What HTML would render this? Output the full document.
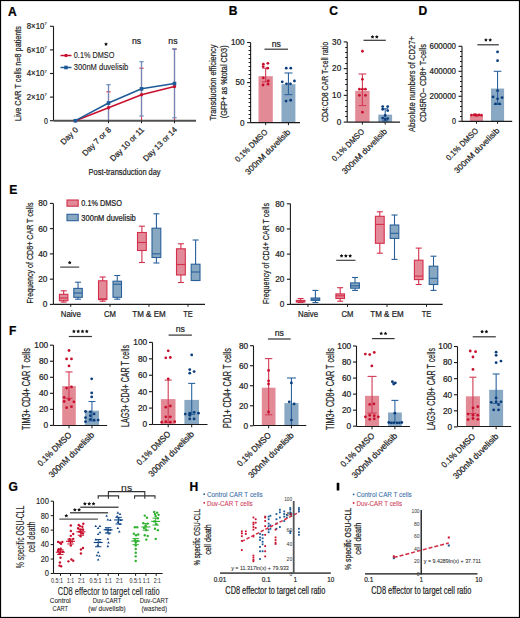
<!DOCTYPE html>
<html><head><meta charset="utf-8"><style>
html,body{margin:0;padding:0;background:#fff;}
svg{display:block;}
text{font-family:"Liberation Sans", sans-serif;}
</style></head><body>
<svg width="520" height="618" viewBox="0 0 520 618">
<rect x="0" y="0" width="520" height="618" fill="#fff"/>
<text transform="translate(8.1,15.8)" font-size="12.07" text-anchor="start" fill="#000" stroke="#000" stroke-width="0.22" font-weight="bold">A</text>
<line x1="53.5" y1="26.299999999999997" x2="53.5" y2="120.7" stroke="#1a1a1a" stroke-width="1.1" />
<line x1="50.0" y1="26.299999999999997" x2="53.5" y2="26.299999999999997" stroke="#1a1a1a" stroke-width="1.1" />
<text transform="translate(44.3,29.199999999999996)" font-size="8.16" text-anchor="end" fill="#222" stroke="#222" stroke-width="0.22" textLength="17.5" lengthAdjust="spacingAndGlyphs">8×10</text>
<text transform="translate(44.6,25.4)" font-size="4.14" text-anchor="start" fill="#555" stroke="#555" stroke-width="0.22">7</text>
<line x1="50.0" y1="49.89999999999999" x2="53.5" y2="49.89999999999999" stroke="#1a1a1a" stroke-width="1.1" />
<text transform="translate(44.3,52.79999999999999)" font-size="8.16" text-anchor="end" fill="#222" stroke="#222" stroke-width="0.22" textLength="17.5" lengthAdjust="spacingAndGlyphs">6×10</text>
<text transform="translate(44.6,48.99999999999999)" font-size="4.14" text-anchor="start" fill="#555" stroke="#555" stroke-width="0.22">7</text>
<line x1="50.0" y1="73.5" x2="53.5" y2="73.5" stroke="#1a1a1a" stroke-width="1.1" />
<text transform="translate(44.3,76.4)" font-size="8.16" text-anchor="end" fill="#222" stroke="#222" stroke-width="0.22" textLength="17.5" lengthAdjust="spacingAndGlyphs">4×10</text>
<text transform="translate(44.6,72.6)" font-size="4.14" text-anchor="start" fill="#555" stroke="#555" stroke-width="0.22">7</text>
<line x1="50.0" y1="97.1" x2="53.5" y2="97.1" stroke="#1a1a1a" stroke-width="1.1" />
<text transform="translate(44.3,100.0)" font-size="8.16" text-anchor="end" fill="#222" stroke="#222" stroke-width="0.22" textLength="17.5" lengthAdjust="spacingAndGlyphs">2×10</text>
<text transform="translate(44.6,96.19999999999999)" font-size="4.14" text-anchor="start" fill="#555" stroke="#555" stroke-width="0.22">7</text>
<line x1="50.0" y1="120.7" x2="53.5" y2="120.7" stroke="#1a1a1a" stroke-width="1.1" />
<text transform="translate(47.8,123.60000000000001)" font-size="8.16" text-anchor="end" fill="#222" stroke="#222" stroke-width="0.22" textLength="3.9" lengthAdjust="spacingAndGlyphs">0</text>
<text transform="translate(21.2,73.5) rotate(-90)" font-size="8.74" text-anchor="middle" fill="#222" stroke="#222" stroke-width="0.22" textLength="95" lengthAdjust="spacingAndGlyphs">Live CAR T cells n=8 patients</text>
<line x1="108.5" y1="91.78999999999999" x2="108.5" y2="120.7" stroke="#d23a55" stroke-width="1.1" />
<line x1="106.3" y1="91.78999999999999" x2="110.7" y2="91.78999999999999" stroke="#d23a55" stroke-width="1.1" />
<line x1="141.5" y1="68.19" x2="141.5" y2="120.7" stroke="#d23a55" stroke-width="1.1" />
<line x1="139.3" y1="68.19" x2="143.7" y2="68.19" stroke="#d23a55" stroke-width="1.1" />
<line x1="174.5" y1="49.31" x2="174.5" y2="120.7" stroke="#d23a55" stroke-width="1.1" />
<line x1="172.3" y1="49.31" x2="176.7" y2="49.31" stroke="#d23a55" stroke-width="1.1" />
<line x1="108.5" y1="84.71000000000001" x2="108.5" y2="120.7" stroke="#7585b5" stroke-width="1.3" />
<line x1="106.3" y1="84.71000000000001" x2="110.7" y2="84.71000000000001" stroke="#6b8fc0" stroke-width="1.2" />
<line x1="141.5" y1="61.7" x2="141.5" y2="115.98" stroke="#7585b5" stroke-width="1.3" />
<line x1="139.3" y1="61.7" x2="143.7" y2="61.7" stroke="#6b8fc0" stroke-width="1.2" />
<line x1="139.3" y1="115.98" x2="143.7" y2="115.98" stroke="#6b8fc0" stroke-width="1.2" />
<line x1="174.5" y1="48.72" x2="174.5" y2="117.75" stroke="#7585b5" stroke-width="1.3" />
<line x1="172.3" y1="48.72" x2="176.7" y2="48.72" stroke="#6b8fc0" stroke-width="1.2" />
<line x1="172.3" y1="117.75" x2="176.7" y2="117.75" stroke="#6b8fc0" stroke-width="1.2" />
<line x1="53.5" y1="120.7" x2="196" y2="120.7" stroke="#505050" stroke-width="2.1" />
<line x1="108.5" y1="120.7" x2="108.5" y2="123.2" stroke="#1a1a1a" stroke-width="1" />
<line x1="141.5" y1="120.7" x2="141.5" y2="123.2" stroke="#1a1a1a" stroke-width="1" />
<line x1="174.5" y1="120.7" x2="174.5" y2="123.2" stroke="#1a1a1a" stroke-width="1" />
<polyline points="75.4,120.7 108.5,107.72 141.5,94.74 174.5,86.48" fill="none" stroke="#c8102e" stroke-width="1.5"/>
<polyline points="75.4,120.7 108.5,103.0 141.5,88.84 174.5,83.53" fill="none" stroke="#1d5a98" stroke-width="1.5"/>
<circle cx="75.4" cy="120.7" r="1.7" fill="#c8102e"/>
<circle cx="108.5" cy="107.72" r="1.7" fill="#c8102e"/>
<circle cx="141.5" cy="94.74" r="1.7" fill="#c8102e"/>
<circle cx="174.5" cy="86.48" r="1.7" fill="#c8102e"/>
<rect x="73.60000000000001" y="118.9" width="3.6" height="3.6" fill="#1d5a98" stroke="none" stroke-width="0"/>
<rect x="106.7" y="101.2" width="3.6" height="3.6" fill="#1d5a98" stroke="none" stroke-width="0"/>
<rect x="139.7" y="87.04" width="3.6" height="3.6" fill="#1d5a98" stroke="none" stroke-width="0"/>
<rect x="172.7" y="81.73" width="3.6" height="3.6" fill="#1d5a98" stroke="none" stroke-width="0"/>
<polygon points="106.00,42.25 106.63,43.33 107.85,43.60 107.02,44.53 107.15,45.78 106.00,45.27 104.85,45.78 104.98,44.53 104.15,43.60 105.37,43.33" fill="#111"/>
<text transform="translate(136.6,43.9)" font-size="8.97" text-anchor="middle" fill="#222" stroke="#222" stroke-width="0.22" textLength="9.2" lengthAdjust="spacingAndGlyphs">ns</text>
<text transform="translate(172.9,43.9)" font-size="8.97" text-anchor="middle" fill="#222" stroke="#222" stroke-width="0.22" textLength="9.2" lengthAdjust="spacingAndGlyphs">ns</text>
<line x1="60.5" y1="55.5" x2="71.5" y2="55.5" stroke="#c8102e" stroke-width="1.5" />
<circle cx="66" cy="55.5" r="1.7" fill="#c8102e"/>
<text transform="translate(73.8,58.2)" font-size="8.28" text-anchor="start" fill="#222" stroke="#222" stroke-width="0.12" textLength="40.5" lengthAdjust="spacingAndGlyphs">0.1% DMSO</text>
<line x1="60.5" y1="67.5" x2="71.5" y2="67.5" stroke="#1d5a98" stroke-width="1.5" />
<rect x="64.2" y="65.7" width="3.6" height="3.6" fill="#1d5a98" stroke="none" stroke-width="0"/>
<text transform="translate(73.8,70.2)" font-size="8.28" text-anchor="start" fill="#222" stroke="#222" stroke-width="0.12" textLength="54.5" lengthAdjust="spacingAndGlyphs">300nM duvelisib</text>
<text transform="translate(78.6,130.3) rotate(-45)" font-size="8.05" text-anchor="end" fill="#222" stroke="#222" stroke-width="0.22" textLength="21" lengthAdjust="spacingAndGlyphs">Day 0</text>
<text transform="translate(111.6,130.3) rotate(-45)" font-size="8.05" text-anchor="end" fill="#222" stroke="#222" stroke-width="0.22" textLength="37" lengthAdjust="spacingAndGlyphs">Day 7 or 8</text>
<text transform="translate(144.6,130.3) rotate(-45)" font-size="8.05" text-anchor="end" fill="#222" stroke="#222" stroke-width="0.22" textLength="44.5" lengthAdjust="spacingAndGlyphs">Day 10 or 11</text>
<text transform="translate(177.6,130.3) rotate(-45)" font-size="8.05" text-anchor="end" fill="#222" stroke="#222" stroke-width="0.22" textLength="44.5" lengthAdjust="spacingAndGlyphs">Day 13 or 14</text>
<text transform="translate(124.6,174.5)" font-size="9.2" text-anchor="middle" fill="#222" stroke="#222" stroke-width="0.22" textLength="72" lengthAdjust="spacingAndGlyphs">Post-transduction day</text>
<text transform="translate(228.7,15.2)" font-size="12.07" text-anchor="start" fill="#000" stroke="#000" stroke-width="0.22" font-weight="bold">B</text>
<line x1="250.6" y1="42.5" x2="250.6" y2="122.7" stroke="#1a1a1a" stroke-width="1.1" />
<line x1="247.1" y1="122.7" x2="250.6" y2="122.7" stroke="#1a1a1a" stroke-width="1.1" />
<text transform="translate(244.6,125.54)" font-size="8.16" text-anchor="end" fill="#222" stroke="#222" stroke-width="0.22">0</text>
<line x1="247.1" y1="82.6" x2="250.6" y2="82.6" stroke="#1a1a1a" stroke-width="1.1" />
<text transform="translate(244.6,85.44)" font-size="8.16" text-anchor="end" fill="#222" stroke="#222" stroke-width="0.22">50</text>
<line x1="247.1" y1="42.5" x2="250.6" y2="42.5" stroke="#1a1a1a" stroke-width="1.1" />
<text transform="translate(244.6,45.34)" font-size="8.16" text-anchor="end" fill="#222" stroke="#222" stroke-width="0.22">100</text>
<line x1="248.6" y1="118.5" x2="250.6" y2="118.5" stroke="#1a1a1a" stroke-width="1" />
<line x1="248.6" y1="114.5" x2="250.6" y2="114.5" stroke="#1a1a1a" stroke-width="1" />
<line x1="248.6" y1="110.5" x2="250.6" y2="110.5" stroke="#1a1a1a" stroke-width="1" />
<line x1="248.6" y1="106.5" x2="250.6" y2="106.5" stroke="#1a1a1a" stroke-width="1" />
<line x1="248.6" y1="102.5" x2="250.6" y2="102.5" stroke="#1a1a1a" stroke-width="1" />
<line x1="248.6" y1="98.5" x2="250.6" y2="98.5" stroke="#1a1a1a" stroke-width="1" />
<line x1="248.6" y1="94.5" x2="250.6" y2="94.5" stroke="#1a1a1a" stroke-width="1" />
<line x1="248.6" y1="90.5" x2="250.6" y2="90.5" stroke="#1a1a1a" stroke-width="1" />
<line x1="248.6" y1="86.5" x2="250.6" y2="86.5" stroke="#1a1a1a" stroke-width="1" />
<line x1="248.6" y1="78.5" x2="250.6" y2="78.5" stroke="#1a1a1a" stroke-width="1" />
<line x1="248.6" y1="74.5" x2="250.6" y2="74.5" stroke="#1a1a1a" stroke-width="1" />
<line x1="248.6" y1="70.5" x2="250.6" y2="70.5" stroke="#1a1a1a" stroke-width="1" />
<line x1="248.6" y1="66.5" x2="250.6" y2="66.5" stroke="#1a1a1a" stroke-width="1" />
<line x1="248.6" y1="62.5" x2="250.6" y2="62.5" stroke="#1a1a1a" stroke-width="1" />
<line x1="248.6" y1="58.5" x2="250.6" y2="58.5" stroke="#1a1a1a" stroke-width="1" />
<line x1="248.6" y1="54.5" x2="250.6" y2="54.5" stroke="#1a1a1a" stroke-width="1" />
<line x1="248.6" y1="50.5" x2="250.6" y2="50.5" stroke="#1a1a1a" stroke-width="1" />
<line x1="248.6" y1="46.5" x2="250.6" y2="46.5" stroke="#1a1a1a" stroke-width="1" />
<rect x="258.5" y="76.184" width="14.300000000000011" height="46.516000000000005" fill="#e38a97" stroke="none" stroke-width="0"/>
<line x1="265.65" y1="68.164" x2="265.65" y2="81.798" stroke="#d23a55" stroke-width="1.1" />
<line x1="262.15" y1="68.164" x2="269.15" y2="68.164" stroke="#d23a55" stroke-width="1.1" />
<line x1="262.15" y1="81.798" x2="269.15" y2="81.798" stroke="#d23a55" stroke-width="1.1" />
<circle cx="263.34999999999997" cy="64.154" r="1.4" fill="#c8102e"/>
<circle cx="267.84999999999997" cy="63.352" r="1.4" fill="#c8102e"/>
<circle cx="263.15" cy="66.56" r="1.4" fill="#c8102e"/>
<circle cx="267.65" cy="68.164" r="1.4" fill="#c8102e"/>
<circle cx="263.25" cy="77.788" r="1.4" fill="#c8102e"/>
<circle cx="268.25" cy="80.99600000000001" r="1.4" fill="#c8102e"/>
<circle cx="263.04999999999995" cy="85.006" r="1.4" fill="#c8102e"/>
<circle cx="268.04999999999995" cy="84.20400000000001" r="1.4" fill="#c8102e"/>
<rect x="281.5" y="84.20400000000001" width="13.899999999999977" height="38.495999999999995" fill="#88a8c3" stroke="none" stroke-width="0"/>
<line x1="288.45" y1="72.976" x2="288.45" y2="94.63" stroke="#2c64a0" stroke-width="1.1" />
<line x1="284.45" y1="72.976" x2="292.45" y2="72.976" stroke="#2c64a0" stroke-width="1.1" />
<line x1="284.45" y1="94.63" x2="292.45" y2="94.63" stroke="#2c64a0" stroke-width="1.1" />
<circle cx="286.25" cy="68.164" r="1.4" fill="#0b3c7b"/>
<circle cx="290.75" cy="68.164" r="1.4" fill="#0b3c7b"/>
<circle cx="282.25" cy="81.798" r="1.4" fill="#0b3c7b"/>
<circle cx="286.45" cy="83.803" r="1.4" fill="#0b3c7b"/>
<circle cx="290.45" cy="83.803" r="1.4" fill="#0b3c7b"/>
<circle cx="294.45" cy="80.99600000000001" r="1.4" fill="#0b3c7b"/>
<circle cx="286.05" cy="101.046" r="1.4" fill="#0b3c7b"/>
<circle cx="290.65" cy="100.244" r="1.4" fill="#0b3c7b"/>
<line x1="250.6" y1="122.7" x2="300" y2="122.7" stroke="#1a1a1a" stroke-width="1.2" />
<line x1="265.65" y1="122.7" x2="265.65" y2="125.2" stroke="#1a1a1a" stroke-width="1" />
<line x1="288.45" y1="122.7" x2="288.45" y2="125.2" stroke="#1a1a1a" stroke-width="1" />
<text transform="translate(268.04999999999995,132.7) rotate(-45)" font-size="8.16" text-anchor="end" fill="#222" stroke="#222" stroke-width="0.22" textLength="42" lengthAdjust="spacingAndGlyphs">0.1% DMSO</text>
<text transform="translate(290.84999999999997,132.7) rotate(-45)" font-size="8.16" text-anchor="end" fill="#222" stroke="#222" stroke-width="0.22" textLength="60" lengthAdjust="spacingAndGlyphs">300nM duvelisib</text>
<line x1="264.5" y1="49.2" x2="288" y2="49.2" stroke="#333" stroke-width="1.2" />
<text transform="translate(276.25,46.800000000000004)" font-size="8.97" text-anchor="middle" fill="#222" stroke="#222" stroke-width="0.22" textLength="9.2" lengthAdjust="spacingAndGlyphs">ns</text>
<text transform="translate(216.2,82.6) rotate(-90)" font-size="8.39" text-anchor="middle" fill="#222" stroke="#222" stroke-width="0.22" textLength="76" lengthAdjust="spacingAndGlyphs">Transduction efficiency</text>
<text transform="translate(227.4,81.8) rotate(-90)" font-size="8.39" text-anchor="middle" fill="#222" stroke="#222" stroke-width="0.22" textLength="72.8" lengthAdjust="spacingAndGlyphs">(GFP+ as %total CD3)</text>
<text transform="translate(329.2,15.4)" font-size="12.07" text-anchor="start" fill="#000" stroke="#000" stroke-width="0.22" font-weight="bold">C</text>
<line x1="347.2" y1="41.9" x2="347.2" y2="122.1" stroke="#1a1a1a" stroke-width="1.1" />
<line x1="343.7" y1="122.1" x2="347.2" y2="122.1" stroke="#1a1a1a" stroke-width="1.1" />
<text transform="translate(341.2,124.94)" font-size="8.16" text-anchor="end" fill="#222" stroke="#222" stroke-width="0.22">0</text>
<line x1="343.7" y1="95.36666666666667" x2="347.2" y2="95.36666666666667" stroke="#1a1a1a" stroke-width="1.1" />
<text transform="translate(341.2,98.20666666666668)" font-size="8.16" text-anchor="end" fill="#222" stroke="#222" stroke-width="0.22">10</text>
<line x1="343.7" y1="68.63333333333334" x2="347.2" y2="68.63333333333334" stroke="#1a1a1a" stroke-width="1.1" />
<text transform="translate(341.2,71.47333333333334)" font-size="8.16" text-anchor="end" fill="#222" stroke="#222" stroke-width="0.22">20</text>
<line x1="343.7" y1="41.900000000000006" x2="347.2" y2="41.900000000000006" stroke="#1a1a1a" stroke-width="1.1" />
<text transform="translate(341.2,44.74000000000001)" font-size="8.16" text-anchor="end" fill="#222" stroke="#222" stroke-width="0.22">30</text>
<line x1="345.2" y1="116.5" x2="347.2" y2="116.5" stroke="#1a1a1a" stroke-width="1" />
<line x1="345.2" y1="111.5" x2="347.2" y2="111.5" stroke="#1a1a1a" stroke-width="1" />
<line x1="345.2" y1="106.5" x2="347.2" y2="106.5" stroke="#1a1a1a" stroke-width="1" />
<line x1="345.2" y1="100.5" x2="347.2" y2="100.5" stroke="#1a1a1a" stroke-width="1" />
<line x1="345.2" y1="90.5" x2="347.2" y2="90.5" stroke="#1a1a1a" stroke-width="1" />
<line x1="345.2" y1="84.5" x2="347.2" y2="84.5" stroke="#1a1a1a" stroke-width="1" />
<line x1="345.2" y1="79.5" x2="347.2" y2="79.5" stroke="#1a1a1a" stroke-width="1" />
<line x1="345.2" y1="73.5" x2="347.2" y2="73.5" stroke="#1a1a1a" stroke-width="1" />
<line x1="345.2" y1="63.5" x2="347.2" y2="63.5" stroke="#1a1a1a" stroke-width="1" />
<line x1="345.2" y1="57.5" x2="347.2" y2="57.5" stroke="#1a1a1a" stroke-width="1" />
<line x1="345.2" y1="52.5" x2="347.2" y2="52.5" stroke="#1a1a1a" stroke-width="1" />
<line x1="345.2" y1="47.5" x2="347.2" y2="47.5" stroke="#1a1a1a" stroke-width="1" />
<rect x="355.2" y="90.822" width="14.400000000000034" height="31.27799999999999" fill="#e38a97" stroke="none" stroke-width="0"/>
<line x1="362.4" y1="73.98" x2="362.4" y2="105.52533333333332" stroke="#d23a55" stroke-width="1.1" />
<line x1="358.59999999999997" y1="73.98" x2="366.2" y2="73.98" stroke="#d23a55" stroke-width="1.1" />
<line x1="358.59999999999997" y1="105.52533333333332" x2="366.2" y2="105.52533333333332" stroke="#d23a55" stroke-width="1.1" />
<circle cx="362.4" cy="51.256666666666675" r="1.4" fill="#c8102e"/>
<circle cx="362.4" cy="79.32666666666667" r="1.4" fill="#c8102e"/>
<circle cx="359.4" cy="89.21799999999999" r="1.4" fill="#c8102e"/>
<circle cx="365.4" cy="89.21799999999999" r="1.4" fill="#c8102e"/>
<circle cx="362.4" cy="89.21799999999999" r="1.4" fill="#c8102e"/>
<circle cx="359.4" cy="95.36666666666667" r="1.4" fill="#c8102e"/>
<circle cx="365.4" cy="95.36666666666667" r="1.4" fill="#c8102e"/>
<circle cx="362.4" cy="112.20866666666666" r="1.4" fill="#c8102e"/>
<rect x="378.3" y="114.61466666666666" width="13.800000000000011" height="7.48533333333333" fill="#88a8c3" stroke="none" stroke-width="0"/>
<line x1="385.20000000000005" y1="108.73333333333333" x2="385.20000000000005" y2="120.76333333333332" stroke="#2c64a0" stroke-width="1.1" />
<line x1="382.20000000000005" y1="108.73333333333333" x2="388.20000000000005" y2="108.73333333333333" stroke="#2c64a0" stroke-width="1.1" />
<line x1="382.20000000000005" y1="120.76333333333332" x2="388.20000000000005" y2="120.76333333333332" stroke="#2c64a0" stroke-width="1.1" />
<circle cx="382.70000000000005" cy="106.59466666666667" r="1.4" fill="#0b3c7b"/>
<circle cx="387.70000000000005" cy="106.59466666666667" r="1.4" fill="#0b3c7b"/>
<circle cx="382.70000000000005" cy="109.268" r="1.4" fill="#0b3c7b"/>
<circle cx="387.70000000000005" cy="110.60466666666666" r="1.4" fill="#0b3c7b"/>
<circle cx="382.70000000000005" cy="118.08999999999999" r="1.4" fill="#0b3c7b"/>
<circle cx="387.70000000000005" cy="118.62466666666666" r="1.4" fill="#0b3c7b"/>
<circle cx="385.20000000000005" cy="115.41666666666666" r="1.4" fill="#0b3c7b"/>
<circle cx="385.20000000000005" cy="119.42666666666666" r="1.4" fill="#0b3c7b"/>
<line x1="347.2" y1="122.1" x2="400" y2="122.1" stroke="#1a1a1a" stroke-width="1.2" />
<line x1="362.4" y1="122.1" x2="362.4" y2="124.6" stroke="#1a1a1a" stroke-width="1" />
<line x1="385.20000000000005" y1="122.1" x2="385.20000000000005" y2="124.6" stroke="#1a1a1a" stroke-width="1" />
<text transform="translate(364.79999999999995,132.1) rotate(-45)" font-size="8.16" text-anchor="end" fill="#222" stroke="#222" stroke-width="0.22" textLength="42" lengthAdjust="spacingAndGlyphs">0.1% DMSO</text>
<text transform="translate(387.6,132.1) rotate(-45)" font-size="8.16" text-anchor="end" fill="#222" stroke="#222" stroke-width="0.22" textLength="60" lengthAdjust="spacingAndGlyphs">300nM duvelisib</text>
<line x1="363.5" y1="40.3" x2="385.8" y2="40.3" stroke="#333" stroke-width="1.2" />
<polygon points="372.50,34.95 373.13,36.03 374.35,36.30 373.52,37.23 373.65,38.48 372.50,37.97 371.35,38.48 371.48,37.23 370.65,36.30 371.87,36.03" fill="#111"/>
<polygon points="376.80,34.95 377.43,36.03 378.65,36.30 377.82,37.23 377.95,38.48 376.80,37.97 375.65,38.48 375.78,37.23 374.95,36.30 376.17,36.03" fill="#111"/>
<text transform="translate(327.6,82) rotate(-90)" font-size="9.89" text-anchor="middle" fill="#222" stroke="#222" stroke-width="0.22" textLength="80" lengthAdjust="spacingAndGlyphs">CD4:CD8 CAR T-cell ratio</text>
<text transform="translate(418.5,15.4)" font-size="12.07" text-anchor="start" fill="#000" stroke="#000" stroke-width="0.22" font-weight="bold">D</text>
<line x1="462" y1="46.3" x2="462" y2="121.3" stroke="#1a1a1a" stroke-width="1.1" />
<line x1="458.5" y1="121.3" x2="462" y2="121.3" stroke="#1a1a1a" stroke-width="1.1" />
<text transform="translate(456,124.14)" font-size="8.16" text-anchor="end" fill="#222" stroke="#222" stroke-width="0.22" textLength="4" lengthAdjust="spacingAndGlyphs">0</text>
<line x1="458.5" y1="96.3" x2="462" y2="96.3" stroke="#1a1a1a" stroke-width="1.1" />
<text transform="translate(456,99.14)" font-size="8.16" text-anchor="end" fill="#222" stroke="#222" stroke-width="0.22" textLength="26.5" lengthAdjust="spacingAndGlyphs">200000</text>
<line x1="458.5" y1="71.3" x2="462" y2="71.3" stroke="#1a1a1a" stroke-width="1.1" />
<text transform="translate(456,74.14)" font-size="8.16" text-anchor="end" fill="#222" stroke="#222" stroke-width="0.22" textLength="26.5" lengthAdjust="spacingAndGlyphs">400000</text>
<line x1="458.5" y1="46.3" x2="462" y2="46.3" stroke="#1a1a1a" stroke-width="1.1" />
<text transform="translate(456,49.14)" font-size="8.16" text-anchor="end" fill="#222" stroke="#222" stroke-width="0.22" textLength="26.5" lengthAdjust="spacingAndGlyphs">600000</text>
<line x1="460" y1="116.5" x2="462" y2="116.5" stroke="#1a1a1a" stroke-width="1" />
<line x1="460" y1="111.5" x2="462" y2="111.5" stroke="#1a1a1a" stroke-width="1" />
<line x1="460" y1="106.5" x2="462" y2="106.5" stroke="#1a1a1a" stroke-width="1" />
<line x1="460" y1="101.5" x2="462" y2="101.5" stroke="#1a1a1a" stroke-width="1" />
<line x1="460" y1="91.5" x2="462" y2="91.5" stroke="#1a1a1a" stroke-width="1" />
<line x1="460" y1="86.5" x2="462" y2="86.5" stroke="#1a1a1a" stroke-width="1" />
<line x1="460" y1="81.5" x2="462" y2="81.5" stroke="#1a1a1a" stroke-width="1" />
<line x1="460" y1="76.5" x2="462" y2="76.5" stroke="#1a1a1a" stroke-width="1" />
<line x1="460" y1="66.5" x2="462" y2="66.5" stroke="#1a1a1a" stroke-width="1" />
<line x1="460" y1="61.5" x2="462" y2="61.5" stroke="#1a1a1a" stroke-width="1" />
<line x1="460" y1="56.5" x2="462" y2="56.5" stroke="#1a1a1a" stroke-width="1" />
<line x1="460" y1="51.5" x2="462" y2="51.5" stroke="#1a1a1a" stroke-width="1" />
<rect x="469.9" y="115.425" width="13.100000000000023" height="5.875" fill="#e38a97" stroke="none" stroke-width="0"/>
<line x1="476.45" y1="114.8" x2="476.45" y2="115.925" stroke="#d23a55" stroke-width="1.1" />
<line x1="474.45" y1="114.8" x2="478.45" y2="114.8" stroke="#d23a55" stroke-width="1.1" />
<line x1="474.45" y1="115.925" x2="478.45" y2="115.925" stroke="#d23a55" stroke-width="1.1" />
<circle cx="471.45" cy="115.05" r="1.4" fill="#c8102e"/>
<circle cx="473.95" cy="114.8" r="1.4" fill="#c8102e"/>
<circle cx="476.45" cy="115.3" r="1.4" fill="#c8102e"/>
<circle cx="478.95" cy="114.925" r="1.4" fill="#c8102e"/>
<circle cx="481.45" cy="115.175" r="1.4" fill="#c8102e"/>
<circle cx="475.45" cy="114.675" r="1.4" fill="#c8102e"/>
<rect x="491" y="88.55" width="13.100000000000023" height="32.75" fill="#88a8c3" stroke="none" stroke-width="0"/>
<line x1="497.55" y1="71.3" x2="497.55" y2="104.425" stroke="#2c64a0" stroke-width="1.1" />
<line x1="493.75" y1="71.3" x2="501.35" y2="71.3" stroke="#2c64a0" stroke-width="1.1" />
<line x1="493.75" y1="104.425" x2="501.35" y2="104.425" stroke="#2c64a0" stroke-width="1.1" />
<circle cx="497.55" cy="51.925" r="1.4" fill="#0b3c7b"/>
<circle cx="497.55" cy="60.675" r="1.4" fill="#0b3c7b"/>
<circle cx="497.55" cy="90.675" r="1.4" fill="#0b3c7b"/>
<circle cx="493.05" cy="96.925" r="1.4" fill="#0b3c7b"/>
<circle cx="502.05" cy="97.55" r="1.4" fill="#0b3c7b"/>
<circle cx="497.55" cy="98.8" r="1.4" fill="#0b3c7b"/>
<circle cx="495.55" cy="103.8" r="1.4" fill="#0b3c7b"/>
<circle cx="499.55" cy="103.8" r="1.4" fill="#0b3c7b"/>
<line x1="462" y1="121.3" x2="512.2" y2="121.3" stroke="#1a1a1a" stroke-width="1.2" />
<line x1="476.45" y1="121.3" x2="476.45" y2="123.8" stroke="#1a1a1a" stroke-width="1" />
<line x1="497.55" y1="121.3" x2="497.55" y2="123.8" stroke="#1a1a1a" stroke-width="1" />
<text transform="translate(478.84999999999997,131.3) rotate(-45)" font-size="8.16" text-anchor="end" fill="#222" stroke="#222" stroke-width="0.22" textLength="42" lengthAdjust="spacingAndGlyphs">0.1% DMSO</text>
<text transform="translate(499.95,131.3) rotate(-45)" font-size="8.16" text-anchor="end" fill="#222" stroke="#222" stroke-width="0.22" textLength="60" lengthAdjust="spacingAndGlyphs">300nM duvelisib</text>
<line x1="477.3" y1="44.8" x2="498.8" y2="44.8" stroke="#333" stroke-width="1.2" />
<polygon points="485.90,38.05 486.53,39.13 487.75,39.40 486.92,40.33 487.05,41.58 485.90,41.07 484.75,41.58 484.88,40.33 484.05,39.40 485.27,39.13" fill="#111"/>
<polygon points="490.20,38.05 490.83,39.13 492.05,39.40 491.22,40.33 491.35,41.58 490.20,41.07 489.05,41.58 489.18,40.33 488.35,39.40 489.57,39.13" fill="#111"/>
<text transform="translate(415,84) rotate(-90)" font-size="9.89" text-anchor="middle" fill="#222" stroke="#222" stroke-width="0.22" textLength="96" lengthAdjust="spacingAndGlyphs">Absolute numbers of CD27+</text>
<text transform="translate(425.6,83) rotate(-90)" font-size="9.89" text-anchor="middle" fill="#222" stroke="#222" stroke-width="0.22" textLength="78" lengthAdjust="spacingAndGlyphs">CD45RO– CD8+ T-cells</text>
<text transform="translate(9.3,193.8)" font-size="12.07" text-anchor="start" fill="#000" stroke="#000" stroke-width="0.22" font-weight="bold">E</text>
<line x1="53.4" y1="203.39999999999998" x2="53.4" y2="304.3" stroke="#1a1a1a" stroke-width="1.1" />
<line x1="49.9" y1="304.4" x2="53.4" y2="304.4" stroke="#1a1a1a" stroke-width="1.1" />
<text transform="translate(47.4,307.28)" font-size="8.28" text-anchor="end" fill="#222" stroke="#222" stroke-width="0.22">0</text>
<line x1="49.9" y1="279.15" x2="53.4" y2="279.15" stroke="#1a1a1a" stroke-width="1.1" />
<text transform="translate(47.4,282.03)" font-size="8.28" text-anchor="end" fill="#222" stroke="#222" stroke-width="0.22">20</text>
<line x1="49.9" y1="253.89999999999998" x2="53.4" y2="253.89999999999998" stroke="#1a1a1a" stroke-width="1.1" />
<text transform="translate(47.4,256.78)" font-size="8.28" text-anchor="end" fill="#222" stroke="#222" stroke-width="0.22">40</text>
<line x1="49.9" y1="228.64999999999998" x2="53.4" y2="228.64999999999998" stroke="#1a1a1a" stroke-width="1.1" />
<text transform="translate(47.4,231.52999999999997)" font-size="8.28" text-anchor="end" fill="#222" stroke="#222" stroke-width="0.22">60</text>
<line x1="49.9" y1="203.39999999999998" x2="53.4" y2="203.39999999999998" stroke="#1a1a1a" stroke-width="1.1" />
<text transform="translate(47.4,206.27999999999997)" font-size="8.28" text-anchor="end" fill="#222" stroke="#222" stroke-width="0.22">80</text>
<line x1="53.4" y1="304.3" x2="205" y2="304.3" stroke="#1a1a1a" stroke-width="1.2" />
<line x1="70.75" y1="304.3" x2="70.75" y2="306.8" stroke="#1a1a1a" stroke-width="1" />
<text transform="translate(70.75,317.0)" font-size="8.51" text-anchor="middle" fill="#222" stroke="#222" stroke-width="0.22" textLength="20" lengthAdjust="spacingAndGlyphs">Naive</text>
<line x1="110" y1="304.3" x2="110" y2="306.8" stroke="#1a1a1a" stroke-width="1" />
<text transform="translate(110,317.0)" font-size="8.51" text-anchor="middle" fill="#222" stroke="#222" stroke-width="0.22" textLength="12" lengthAdjust="spacingAndGlyphs">CM</text>
<line x1="149" y1="304.3" x2="149" y2="306.8" stroke="#1a1a1a" stroke-width="1" />
<text transform="translate(149,317.0)" font-size="8.51" text-anchor="middle" fill="#222" stroke="#222" stroke-width="0.22" textLength="33.5" lengthAdjust="spacingAndGlyphs">TM &amp; EM</text>
<line x1="188" y1="304.3" x2="188" y2="306.8" stroke="#1a1a1a" stroke-width="1" />
<text transform="translate(188,317.0)" font-size="8.51" text-anchor="middle" fill="#222" stroke="#222" stroke-width="0.22" textLength="9.5" lengthAdjust="spacingAndGlyphs">TE</text>
<line x1="63.65" y1="290.8" x2="63.65" y2="302.1" stroke="#d22f4c" stroke-width="1.1" />
<line x1="60.65" y1="290.8" x2="66.65" y2="290.8" stroke="#d22f4c" stroke-width="1.1" />
<line x1="60.65" y1="302.1" x2="66.65" y2="302.1" stroke="#d22f4c" stroke-width="1.1" />
<rect x="59.4" y="294.3" width="8.5" height="6.399999999999977" fill="#e38a98" stroke="#d22f4c" stroke-width="1.1"/>
<line x1="59.4" y1="298" x2="67.9" y2="298" stroke="#d22f4c" stroke-width="1.1" />
<line x1="78.05" y1="282.2" x2="78.05" y2="299.2" stroke="#28609a" stroke-width="1.1" />
<line x1="75.05" y1="282.2" x2="81.05" y2="282.2" stroke="#28609a" stroke-width="1.1" />
<line x1="75.05" y1="299.2" x2="81.05" y2="299.2" stroke="#28609a" stroke-width="1.1" />
<rect x="73.8" y="288.4" width="8.5" height="8.900000000000034" fill="#88a8c2" stroke="#28609a" stroke-width="1.1"/>
<line x1="73.8" y1="293" x2="82.3" y2="293" stroke="#28609a" stroke-width="1.1" />
<line x1="102.7" y1="277" x2="102.7" y2="301.2" stroke="#d22f4c" stroke-width="1.1" />
<line x1="99.7" y1="277" x2="105.7" y2="277" stroke="#d22f4c" stroke-width="1.1" />
<line x1="99.7" y1="301.2" x2="105.7" y2="301.2" stroke="#d22f4c" stroke-width="1.1" />
<rect x="98.5" y="280.8" width="8.4" height="18.80000000000001" fill="#e38a98" stroke="#d22f4c" stroke-width="1.1"/>
<line x1="98.5" y1="298.8" x2="106.9" y2="298.8" stroke="#d22f4c" stroke-width="1.1" />
<line x1="117.25" y1="275.5" x2="117.25" y2="299.2" stroke="#28609a" stroke-width="1.1" />
<line x1="114.25" y1="275.5" x2="120.25" y2="275.5" stroke="#28609a" stroke-width="1.1" />
<line x1="114.25" y1="299.2" x2="120.25" y2="299.2" stroke="#28609a" stroke-width="1.1" />
<rect x="113.0" y="281.2" width="8.5" height="16.100000000000023" fill="#88a8c2" stroke="#28609a" stroke-width="1.1"/>
<line x1="113.0" y1="284.2" x2="121.5" y2="284.2" stroke="#28609a" stroke-width="1.1" />
<line x1="141.9" y1="226.2" x2="141.9" y2="262.5" stroke="#d22f4c" stroke-width="1.1" />
<line x1="138.9" y1="226.2" x2="144.9" y2="226.2" stroke="#d22f4c" stroke-width="1.1" />
<line x1="138.9" y1="262.5" x2="144.9" y2="262.5" stroke="#d22f4c" stroke-width="1.1" />
<rect x="137.5" y="232.5" width="8.8" height="18.0" fill="#e38a98" stroke="#d22f4c" stroke-width="1.1"/>
<line x1="137.5" y1="242.5" x2="146.3" y2="242.5" stroke="#d22f4c" stroke-width="1.1" />
<line x1="156.4" y1="213.8" x2="156.4" y2="263" stroke="#28609a" stroke-width="1.1" />
<line x1="153.4" y1="213.8" x2="159.4" y2="213.8" stroke="#28609a" stroke-width="1.1" />
<line x1="153.4" y1="263" x2="159.4" y2="263" stroke="#28609a" stroke-width="1.1" />
<rect x="152.0" y="228.2" width="8.8" height="29.30000000000001" fill="#88a8c2" stroke="#28609a" stroke-width="1.1"/>
<line x1="152.0" y1="253.8" x2="160.8" y2="253.8" stroke="#28609a" stroke-width="1.1" />
<line x1="180.9" y1="243.8" x2="180.9" y2="282.5" stroke="#d22f4c" stroke-width="1.1" />
<line x1="177.9" y1="243.8" x2="183.9" y2="243.8" stroke="#d22f4c" stroke-width="1.1" />
<line x1="177.9" y1="282.5" x2="183.9" y2="282.5" stroke="#d22f4c" stroke-width="1.1" />
<rect x="176.5" y="248.8" width="8.8" height="26.19999999999999" fill="#e38a98" stroke="#d22f4c" stroke-width="1.1"/>
<line x1="176.5" y1="264.5" x2="185.3" y2="264.5" stroke="#d22f4c" stroke-width="1.1" />
<line x1="195.6" y1="240" x2="195.6" y2="280.5" stroke="#28609a" stroke-width="1.1" />
<line x1="192.6" y1="240" x2="198.6" y2="240" stroke="#28609a" stroke-width="1.1" />
<line x1="192.6" y1="280.5" x2="198.6" y2="280.5" stroke="#28609a" stroke-width="1.1" />
<rect x="191.2" y="264.2" width="8.8" height="16.30000000000001" fill="#88a8c2" stroke="#28609a" stroke-width="1.1"/>
<line x1="191.2" y1="272" x2="200.0" y2="272" stroke="#28609a" stroke-width="1.1" />
<text transform="translate(32.5,253) rotate(-90)" font-size="9.77" text-anchor="middle" fill="#222" stroke="#222" stroke-width="0.22" textLength="101" lengthAdjust="spacingAndGlyphs">Frequency of CD8+ CAR T cells</text>
<line x1="60.2" y1="267.1" x2="79.2" y2="267.1" stroke="#333" stroke-width="1.1" />
<polygon points="69.70,260.75 70.33,261.83 71.55,262.10 70.72,263.03 70.85,264.28 69.70,263.77 68.55,264.28 68.68,263.03 67.85,262.10 69.07,261.83" fill="#111"/>
<rect x="67" y="200" width="11.2" height="6.2" fill="#e38a98" stroke="#d22f4c" stroke-width="1.1"/>
<text transform="translate(81.3,206.2)" font-size="8.28" text-anchor="start" fill="#222" stroke="#222" stroke-width="0.22" textLength="40.5" lengthAdjust="spacingAndGlyphs">0.1% DMSO</text>
<rect x="67" y="214.3" width="11.2" height="6.4" fill="#88a8c2" stroke="#28609a" stroke-width="1.1"/>
<text transform="translate(81.3,220.6)" font-size="8.28" text-anchor="start" fill="#222" stroke="#222" stroke-width="0.22" textLength="54.5" lengthAdjust="spacingAndGlyphs">300nM duvelisib</text>
<line x1="290.4" y1="203.79999999999998" x2="290.4" y2="304.4" stroke="#1a1a1a" stroke-width="1.1" />
<line x1="286.9" y1="304.4" x2="290.4" y2="304.4" stroke="#1a1a1a" stroke-width="1.1" />
<text transform="translate(284.4,307.28)" font-size="8.28" text-anchor="end" fill="#222" stroke="#222" stroke-width="0.22">0</text>
<line x1="286.9" y1="279.25" x2="290.4" y2="279.25" stroke="#1a1a1a" stroke-width="1.1" />
<text transform="translate(284.4,282.13)" font-size="8.28" text-anchor="end" fill="#222" stroke="#222" stroke-width="0.22">20</text>
<line x1="286.9" y1="254.09999999999997" x2="290.4" y2="254.09999999999997" stroke="#1a1a1a" stroke-width="1.1" />
<text transform="translate(284.4,256.97999999999996)" font-size="8.28" text-anchor="end" fill="#222" stroke="#222" stroke-width="0.22">40</text>
<line x1="286.9" y1="228.95" x2="290.4" y2="228.95" stroke="#1a1a1a" stroke-width="1.1" />
<text transform="translate(284.4,231.82999999999998)" font-size="8.28" text-anchor="end" fill="#222" stroke="#222" stroke-width="0.22">60</text>
<line x1="286.9" y1="203.79999999999998" x2="290.4" y2="203.79999999999998" stroke="#1a1a1a" stroke-width="1.1" />
<text transform="translate(284.4,206.67999999999998)" font-size="8.28" text-anchor="end" fill="#222" stroke="#222" stroke-width="0.22">80</text>
<line x1="290.4" y1="304.4" x2="442.7" y2="304.4" stroke="#1a1a1a" stroke-width="1.2" />
<line x1="308" y1="304.4" x2="308" y2="306.9" stroke="#1a1a1a" stroke-width="1" />
<text transform="translate(308,317.0)" font-size="8.51" text-anchor="middle" fill="#222" stroke="#222" stroke-width="0.22" textLength="20" lengthAdjust="spacingAndGlyphs">Naive</text>
<line x1="347.5" y1="304.4" x2="347.5" y2="306.9" stroke="#1a1a1a" stroke-width="1" />
<text transform="translate(347.5,317.0)" font-size="8.51" text-anchor="middle" fill="#222" stroke="#222" stroke-width="0.22" textLength="12" lengthAdjust="spacingAndGlyphs">CM</text>
<line x1="387" y1="304.4" x2="387" y2="306.9" stroke="#1a1a1a" stroke-width="1" />
<text transform="translate(387,317.0)" font-size="8.51" text-anchor="middle" fill="#222" stroke="#222" stroke-width="0.22" textLength="33.5" lengthAdjust="spacingAndGlyphs">TM &amp; EM</text>
<line x1="426.5" y1="304.4" x2="426.5" y2="306.9" stroke="#1a1a1a" stroke-width="1" />
<text transform="translate(426.5,317.0)" font-size="8.51" text-anchor="middle" fill="#222" stroke="#222" stroke-width="0.22" textLength="9.5" lengthAdjust="spacingAndGlyphs">TE</text>
<line x1="300.6" y1="298.5" x2="300.6" y2="302.5" stroke="#d22f4c" stroke-width="1.1" />
<line x1="297.6" y1="298.5" x2="303.6" y2="298.5" stroke="#d22f4c" stroke-width="1.1" />
<line x1="297.6" y1="302.5" x2="303.6" y2="302.5" stroke="#d22f4c" stroke-width="1.1" />
<rect x="296.3" y="300.4" width="8.6" height="1.6000000000000227" fill="#e38a98" stroke="#d22f4c" stroke-width="1.1"/>
<line x1="296.3" y1="301.2" x2="304.90000000000003" y2="301.2" stroke="#d22f4c" stroke-width="1.1" />
<line x1="315.4" y1="290.4" x2="315.4" y2="302.5" stroke="#28609a" stroke-width="1.1" />
<line x1="312.4" y1="290.4" x2="318.4" y2="290.4" stroke="#28609a" stroke-width="1.1" />
<line x1="312.4" y1="302.5" x2="318.4" y2="302.5" stroke="#28609a" stroke-width="1.1" />
<rect x="311.09999999999997" y="298" width="8.6" height="2.3999999999999773" fill="#88a8c2" stroke="#28609a" stroke-width="1.1"/>
<line x1="311.09999999999997" y1="299.2" x2="319.7" y2="299.2" stroke="#28609a" stroke-width="1.1" />
<line x1="340.2" y1="287.7" x2="340.2" y2="301.2" stroke="#d22f4c" stroke-width="1.1" />
<line x1="337.2" y1="287.7" x2="343.2" y2="287.7" stroke="#d22f4c" stroke-width="1.1" />
<line x1="337.2" y1="301.2" x2="343.2" y2="301.2" stroke="#d22f4c" stroke-width="1.1" />
<rect x="335.9" y="293.9" width="8.6" height="4.600000000000023" fill="#e38a98" stroke="#d22f4c" stroke-width="1.1"/>
<line x1="335.9" y1="295.8" x2="344.5" y2="295.8" stroke="#d22f4c" stroke-width="1.1" />
<line x1="355" y1="277.5" x2="355" y2="290.4" stroke="#28609a" stroke-width="1.1" />
<line x1="352" y1="277.5" x2="358" y2="277.5" stroke="#28609a" stroke-width="1.1" />
<line x1="352" y1="290.4" x2="358" y2="290.4" stroke="#28609a" stroke-width="1.1" />
<rect x="350.6" y="282.9" width="8.8" height="5.300000000000011" fill="#88a8c2" stroke="#28609a" stroke-width="1.1"/>
<line x1="350.6" y1="285.8" x2="359.4" y2="285.8" stroke="#28609a" stroke-width="1.1" />
<line x1="379.8" y1="211.8" x2="379.8" y2="253.2" stroke="#d22f4c" stroke-width="1.1" />
<line x1="376.8" y1="211.8" x2="382.8" y2="211.8" stroke="#d22f4c" stroke-width="1.1" />
<line x1="376.8" y1="253.2" x2="382.8" y2="253.2" stroke="#d22f4c" stroke-width="1.1" />
<rect x="375.40000000000003" y="216.3" width="8.8" height="27.0" fill="#e38a98" stroke="#d22f4c" stroke-width="1.1"/>
<line x1="375.40000000000003" y1="224.4" x2="384.2" y2="224.4" stroke="#d22f4c" stroke-width="1.1" />
<line x1="394.5" y1="215" x2="394.5" y2="259.4" stroke="#28609a" stroke-width="1.1" />
<line x1="391.5" y1="215" x2="397.5" y2="215" stroke="#28609a" stroke-width="1.1" />
<line x1="391.5" y1="259.4" x2="397.5" y2="259.4" stroke="#28609a" stroke-width="1.1" />
<rect x="390.2" y="225" width="8.6" height="13.400000000000006" fill="#88a8c2" stroke="#28609a" stroke-width="1.1"/>
<line x1="390.2" y1="233.3" x2="398.8" y2="233.3" stroke="#28609a" stroke-width="1.1" />
<line x1="418.7" y1="248.1" x2="418.7" y2="284.5" stroke="#d22f4c" stroke-width="1.1" />
<line x1="415.7" y1="248.1" x2="421.7" y2="248.1" stroke="#d22f4c" stroke-width="1.1" />
<line x1="415.7" y1="284.5" x2="421.7" y2="284.5" stroke="#d22f4c" stroke-width="1.1" />
<rect x="414.4" y="260.2" width="8.6" height="19.400000000000034" fill="#e38a98" stroke="#d22f4c" stroke-width="1.1"/>
<line x1="414.4" y1="276.1" x2="423.0" y2="276.1" stroke="#d22f4c" stroke-width="1.1" />
<line x1="433.5" y1="256.2" x2="433.5" y2="290.4" stroke="#28609a" stroke-width="1.1" />
<line x1="430.5" y1="256.2" x2="436.5" y2="256.2" stroke="#28609a" stroke-width="1.1" />
<line x1="430.5" y1="290.4" x2="436.5" y2="290.4" stroke="#28609a" stroke-width="1.1" />
<rect x="429.2" y="266.2" width="8.6" height="18.30000000000001" fill="#88a8c2" stroke="#28609a" stroke-width="1.1"/>
<line x1="429.2" y1="278.3" x2="437.8" y2="278.3" stroke="#28609a" stroke-width="1.1" />
<text transform="translate(268.5,253.5) rotate(-90)" font-size="9.77" text-anchor="middle" fill="#222" stroke="#222" stroke-width="0.22" textLength="101" lengthAdjust="spacingAndGlyphs">Frequency of CD4+ CAR T cells</text>
<line x1="336.2" y1="260.3" x2="355.5" y2="260.3" stroke="#333" stroke-width="1.1" />
<polygon points="341.55,253.95 342.18,255.03 343.40,255.30 342.57,256.23 342.70,257.48 341.55,256.97 340.40,257.48 340.53,256.23 339.70,255.30 340.92,255.03" fill="#111"/>
<polygon points="345.85,253.95 346.48,255.03 347.70,255.30 346.87,256.23 347.00,257.48 345.85,256.97 344.70,257.48 344.83,256.23 344.00,255.30 345.22,255.03" fill="#111"/>
<polygon points="350.15,253.95 350.78,255.03 352.00,255.30 351.17,256.23 351.30,257.48 350.15,256.97 349.00,257.48 349.13,256.23 348.30,255.30 349.52,255.03" fill="#111"/>
<text transform="translate(9,334.6)" font-size="12.07" text-anchor="start" fill="#000" stroke="#000" stroke-width="0.22" font-weight="bold">F</text>
<line x1="53.5" y1="345.2" x2="53.5" y2="425.5" stroke="#1a1a1a" stroke-width="1.1" />
<line x1="50.0" y1="425.4" x2="53.5" y2="425.4" stroke="#1a1a1a" stroke-width="1.1" />
<text transform="translate(48.2,428.2869565217391)" font-size="8.3" text-anchor="end" fill="#222" stroke="#222" stroke-width="0.22">0</text>
<line x1="50.0" y1="409.35999999999996" x2="53.5" y2="409.35999999999996" stroke="#1a1a1a" stroke-width="1.1" />
<text transform="translate(48.2,412.2469565217391)" font-size="8.3" text-anchor="end" fill="#222" stroke="#222" stroke-width="0.22">20</text>
<line x1="50.0" y1="393.32" x2="53.5" y2="393.32" stroke="#1a1a1a" stroke-width="1.1" />
<text transform="translate(48.2,396.20695652173913)" font-size="8.3" text-anchor="end" fill="#222" stroke="#222" stroke-width="0.22">40</text>
<line x1="50.0" y1="377.28" x2="53.5" y2="377.28" stroke="#1a1a1a" stroke-width="1.1" />
<text transform="translate(48.2,380.1669565217391)" font-size="8.3" text-anchor="end" fill="#222" stroke="#222" stroke-width="0.22">60</text>
<line x1="50.0" y1="361.24" x2="53.5" y2="361.24" stroke="#1a1a1a" stroke-width="1.1" />
<text transform="translate(48.2,364.12695652173915)" font-size="8.3" text-anchor="end" fill="#222" stroke="#222" stroke-width="0.22">80</text>
<line x1="50.0" y1="345.2" x2="53.5" y2="345.2" stroke="#1a1a1a" stroke-width="1.1" />
<text transform="translate(48.2,348.0869565217391)" font-size="8.3" text-anchor="end" fill="#222" stroke="#222" stroke-width="0.22">100</text>
<rect x="62.2" y="386.1" width="13.599999999999994" height="39.39999999999998" fill="#e38a97" stroke="none" stroke-width="0"/>
<line x1="69.0" y1="371.9" x2="69.0" y2="398.3" stroke="#d23a55" stroke-width="1.1" />
<line x1="65.5" y1="371.9" x2="72.5" y2="371.9" stroke="#d23a55" stroke-width="1.1" />
<line x1="65.5" y1="398.3" x2="72.5" y2="398.3" stroke="#d23a55" stroke-width="1.1" />
<circle cx="69.03559870550163" cy="350.5177993527508" r="1.4" fill="#c8102e"/>
<circle cx="66.6084142394822" cy="358.93203883495147" r="1.4" fill="#c8102e"/>
<circle cx="71.46278317152104" cy="358.93203883495147" r="1.4" fill="#c8102e"/>
<circle cx="69.03559870550163" cy="365.88996763754045" r="1.4" fill="#c8102e"/>
<circle cx="66.6084142394822" cy="388.05825242718447" r="1.4" fill="#c8102e"/>
<circle cx="71.46278317152104" cy="386.9255663430421" r="1.4" fill="#c8102e"/>
<circle cx="64.18122977346279" cy="397.44336569579286" r="1.4" fill="#c8102e"/>
<circle cx="69.03559870550163" cy="399.546925566343" r="1.4" fill="#c8102e"/>
<circle cx="64.18122977346279" cy="401.48867313915855" r="1.4" fill="#c8102e"/>
<circle cx="73.88996763754045" cy="401.8122977346278" r="1.4" fill="#c8102e"/>
<circle cx="66.6084142394822" cy="407.63754045307445" r="1.4" fill="#c8102e"/>
<circle cx="71.46278317152104" cy="406.6666666666667" r="1.4" fill="#c8102e"/>
<rect x="84.9" y="410.7" width="14.099999999999994" height="14.800000000000011" fill="#88a8c3" stroke="none" stroke-width="0"/>
<line x1="91.95" y1="401.5" x2="91.95" y2="420.9" stroke="#2c64a0" stroke-width="1.1" />
<line x1="88.45" y1="401.5" x2="95.45" y2="401.5" stroke="#2c64a0" stroke-width="1.1" />
<line x1="88.45" y1="420.9" x2="95.45" y2="420.9" stroke="#2c64a0" stroke-width="1.1" />
<circle cx="91.68932038834951" cy="378.8349514563107" r="1.4" fill="#0b3c7b"/>
<circle cx="91.68932038834951" cy="392.9126213592233" r="1.4" fill="#0b3c7b"/>
<circle cx="91.68932038834951" cy="396.957928802589" r="1.4" fill="#0b3c7b"/>
<circle cx="85.54045307443366" cy="411.5210355987055" r="1.4" fill="#0b3c7b"/>
<circle cx="90.3948220064725" cy="412.0064724919094" r="1.4" fill="#0b3c7b"/>
<circle cx="94.11650485436894" cy="413.9482200647249" r="1.4" fill="#0b3c7b"/>
<circle cx="90.3948220064725" cy="415.7281553398058" r="1.4" fill="#0b3c7b"/>
<circle cx="85.54045307443366" cy="417.66990291262135" r="1.4" fill="#0b3c7b"/>
<circle cx="90.3948220064725" cy="419.2880258899676" r="1.4" fill="#0b3c7b"/>
<circle cx="94.11650485436894" cy="420.09708737864077" r="1.4" fill="#0b3c7b"/>
<circle cx="98.16181229773463" cy="420.09708737864077" r="1.4" fill="#0b3c7b"/>
<circle cx="85.54045307443366" cy="421.71521035598704" r="1.4" fill="#0b3c7b"/>
<line x1="53.5" y1="425.5" x2="107.1" y2="425.5" stroke="#1a1a1a" stroke-width="1.2" />
<line x1="69.0" y1="425.5" x2="69.0" y2="428.3" stroke="#1a1a1a" stroke-width="1" />
<line x1="91.95" y1="425.5" x2="91.95" y2="428.3" stroke="#1a1a1a" stroke-width="1" />
<text transform="translate(72.0,435.59999999999997) rotate(-45)" font-size="8.62" text-anchor="end" fill="#222" stroke="#222" stroke-width="0.22" textLength="44" lengthAdjust="spacingAndGlyphs">0.1% DMSO</text>
<text transform="translate(94.75,435.59999999999997) rotate(-45)" font-size="8.62" text-anchor="end" fill="#222" stroke="#222" stroke-width="0.22" textLength="60" lengthAdjust="spacingAndGlyphs">300nM duvelisib</text>
<line x1="68.8" y1="336.5" x2="91.9" y2="336.5" stroke="#333" stroke-width="1.2" />
<polygon points="73.90,329.45 74.53,330.53 75.75,330.80 74.92,331.73 75.05,332.98 73.90,332.47 72.75,332.98 72.88,331.73 72.05,330.80 73.27,330.53" fill="#111"/>
<polygon points="78.20,329.45 78.83,330.53 80.05,330.80 79.22,331.73 79.35,332.98 78.20,332.47 77.05,332.98 77.18,331.73 76.35,330.80 77.57,330.53" fill="#111"/>
<polygon points="82.50,329.45 83.13,330.53 84.35,330.80 83.52,331.73 83.65,332.98 82.50,332.47 81.35,332.98 81.48,331.73 80.65,330.80 81.87,330.53" fill="#111"/>
<polygon points="86.80,329.45 87.43,330.53 88.65,330.80 87.82,331.73 87.95,332.98 86.80,332.47 85.65,332.98 85.78,331.73 84.95,330.80 86.17,330.53" fill="#111"/>
<text transform="translate(30.2,389) rotate(-90)" font-size="10.35" text-anchor="middle" fill="#222" stroke="#222" stroke-width="0.22" textLength="82" lengthAdjust="spacingAndGlyphs">TIM3+ CD4+ CAR T cells</text>
<line x1="152.5" y1="342.4" x2="152.5" y2="424.5" stroke="#1a1a1a" stroke-width="1.1" />
<line x1="149.0" y1="424.5" x2="152.5" y2="424.5" stroke="#1a1a1a" stroke-width="1.1" />
<text transform="translate(147.2,427.38695652173914)" font-size="8.3" text-anchor="end" fill="#222" stroke="#222" stroke-width="0.22">0</text>
<line x1="149.0" y1="408.08" x2="152.5" y2="408.08" stroke="#1a1a1a" stroke-width="1.1" />
<text transform="translate(147.2,410.9669565217391)" font-size="8.3" text-anchor="end" fill="#222" stroke="#222" stroke-width="0.22">20</text>
<line x1="149.0" y1="391.65999999999997" x2="152.5" y2="391.65999999999997" stroke="#1a1a1a" stroke-width="1.1" />
<text transform="translate(147.2,394.5469565217391)" font-size="8.3" text-anchor="end" fill="#222" stroke="#222" stroke-width="0.22">40</text>
<line x1="149.0" y1="375.24" x2="152.5" y2="375.24" stroke="#1a1a1a" stroke-width="1.1" />
<text transform="translate(147.2,378.12695652173915)" font-size="8.3" text-anchor="end" fill="#222" stroke="#222" stroke-width="0.22">60</text>
<line x1="149.0" y1="358.82" x2="152.5" y2="358.82" stroke="#1a1a1a" stroke-width="1.1" />
<text transform="translate(147.2,361.70695652173913)" font-size="8.3" text-anchor="end" fill="#222" stroke="#222" stroke-width="0.22">80</text>
<line x1="149.0" y1="342.4" x2="152.5" y2="342.4" stroke="#1a1a1a" stroke-width="1.1" />
<text transform="translate(147.2,345.2869565217391)" font-size="8.3" text-anchor="end" fill="#222" stroke="#222" stroke-width="0.22">100</text>
<rect x="160.9" y="399.1" width="14.599999999999994" height="25.399999999999977" fill="#e38a97" stroke="none" stroke-width="0"/>
<line x1="168.2" y1="380.1" x2="168.2" y2="422.5" stroke="#d23a55" stroke-width="1.1" />
<line x1="164.7" y1="380.1" x2="171.7" y2="380.1" stroke="#d23a55" stroke-width="1.1" />
<line x1="164.7" y1="422.5" x2="171.7" y2="422.5" stroke="#d23a55" stroke-width="1.1" />
<circle cx="168.2265372168285" cy="350.84142394822004" r="1.4" fill="#c8102e"/>
<circle cx="165.79935275080908" cy="357.7993527508091" r="1.4" fill="#c8102e"/>
<circle cx="170.33009708737865" cy="357.4757281553398" r="1.4" fill="#c8102e"/>
<circle cx="168.2265372168285" cy="378.8349514563107" r="1.4" fill="#c8102e"/>
<circle cx="165.79935275080908" cy="407.15210355987057" r="1.4" fill="#c8102e"/>
<circle cx="170.33009708737865" cy="406.0194174757282" r="1.4" fill="#c8102e"/>
<circle cx="165.79935275080908" cy="416.8608414239482" r="1.4" fill="#c8102e"/>
<circle cx="170.33009708737865" cy="416.8608414239482" r="1.4" fill="#c8102e"/>
<circle cx="161.75404530744336" cy="422.2006472491909" r="1.4" fill="#c8102e"/>
<circle cx="165.79935275080908" cy="421.71521035598704" r="1.4" fill="#c8102e"/>
<circle cx="170.33009708737865" cy="422.2006472491909" r="1.4" fill="#c8102e"/>
<circle cx="174.6990291262136" cy="421.71521035598704" r="1.4" fill="#c8102e"/>
<rect x="184.4" y="399.9" width="14.599999999999994" height="24.600000000000023" fill="#88a8c3" stroke="none" stroke-width="0"/>
<line x1="191.7" y1="383.4" x2="191.7" y2="414.4" stroke="#2c64a0" stroke-width="1.1" />
<line x1="188.2" y1="383.4" x2="195.2" y2="383.4" stroke="#2c64a0" stroke-width="1.1" />
<line x1="188.2" y1="414.4" x2="195.2" y2="414.4" stroke="#2c64a0" stroke-width="1.1" />
<circle cx="191.68932038834953" cy="354.8867313915858" r="1.4" fill="#0b3c7b"/>
<circle cx="189.747572815534" cy="369.6116504854369" r="1.4" fill="#0b3c7b"/>
<circle cx="194.11650485436894" cy="371.5533980582524" r="1.4" fill="#0b3c7b"/>
<circle cx="189.747572815534" cy="373.1715210355987" r="1.4" fill="#0b3c7b"/>
<circle cx="185.2168284789644" cy="414.11003236245955" r="1.4" fill="#0b3c7b"/>
<circle cx="189.747572815534" cy="413.1391585760518" r="1.4" fill="#0b3c7b"/>
<circle cx="194.11650485436894" cy="412.33009708737865" r="1.4" fill="#0b3c7b"/>
<circle cx="198.48543689320388" cy="413.1391585760518" r="1.4" fill="#0b3c7b"/>
<circle cx="189.747572815534" cy="415.24271844660194" r="1.4" fill="#0b3c7b"/>
<circle cx="189.747572815534" cy="418.9644012944984" r="1.4" fill="#0b3c7b"/>
<circle cx="194.11650485436894" cy="418.9644012944984" r="1.4" fill="#0b3c7b"/>
<line x1="152.5" y1="424.5" x2="207.5" y2="424.5" stroke="#1a1a1a" stroke-width="1.2" />
<line x1="168.2" y1="424.5" x2="168.2" y2="427.3" stroke="#1a1a1a" stroke-width="1" />
<line x1="191.7" y1="424.5" x2="191.7" y2="427.3" stroke="#1a1a1a" stroke-width="1" />
<text transform="translate(171.2,434.7) rotate(-45)" font-size="8.62" text-anchor="end" fill="#222" stroke="#222" stroke-width="0.22" textLength="44" lengthAdjust="spacingAndGlyphs">0.1% DMSO</text>
<text transform="translate(194.5,434.7) rotate(-45)" font-size="8.62" text-anchor="end" fill="#222" stroke="#222" stroke-width="0.22" textLength="60" lengthAdjust="spacingAndGlyphs">300nM duvelisib</text>
<line x1="168.6" y1="335.1" x2="191.9" y2="335.1" stroke="#333" stroke-width="1.2" />
<text transform="translate(180.25,331.90000000000003)" font-size="9.54" text-anchor="middle" fill="#222" stroke="#222" stroke-width="0.22" textLength="9.2" lengthAdjust="spacingAndGlyphs">ns</text>
<text transform="translate(128.7,386) rotate(-90)" font-size="10.35" text-anchor="middle" fill="#222" stroke="#222" stroke-width="0.22" textLength="82" lengthAdjust="spacingAndGlyphs">LAG3+ CD4+ CAR T cells</text>
<line x1="253.5" y1="345.7" x2="253.5" y2="425.5" stroke="#1a1a1a" stroke-width="1.1" />
<line x1="250.0" y1="425.8" x2="253.5" y2="425.8" stroke="#1a1a1a" stroke-width="1.1" />
<text transform="translate(248.2,428.68695652173915)" font-size="8.3" text-anchor="end" fill="#222" stroke="#222" stroke-width="0.22">0</text>
<line x1="250.0" y1="405.775" x2="253.5" y2="405.775" stroke="#1a1a1a" stroke-width="1.1" />
<text transform="translate(248.2,408.6619565217391)" font-size="8.3" text-anchor="end" fill="#222" stroke="#222" stroke-width="0.22">20</text>
<line x1="250.0" y1="385.75" x2="253.5" y2="385.75" stroke="#1a1a1a" stroke-width="1.1" />
<text transform="translate(248.2,388.63695652173914)" font-size="8.3" text-anchor="end" fill="#222" stroke="#222" stroke-width="0.22">40</text>
<line x1="250.0" y1="365.725" x2="253.5" y2="365.725" stroke="#1a1a1a" stroke-width="1.1" />
<text transform="translate(248.2,368.61195652173916)" font-size="8.3" text-anchor="end" fill="#222" stroke="#222" stroke-width="0.22">60</text>
<line x1="250.0" y1="345.7" x2="253.5" y2="345.7" stroke="#1a1a1a" stroke-width="1.1" />
<text transform="translate(248.2,348.5869565217391)" font-size="8.3" text-anchor="end" fill="#222" stroke="#222" stroke-width="0.22">80</text>
<rect x="261.8" y="387.7" width="13.699999999999989" height="37.80000000000001" fill="#e38a97" stroke="none" stroke-width="0"/>
<line x1="268.65" y1="358.6" x2="268.65" y2="414.8" stroke="#d23a55" stroke-width="1.1" />
<line x1="265.0" y1="358.6" x2="272.29999999999995" y2="358.6" stroke="#d23a55" stroke-width="1.1" />
<line x1="265.0" y1="414.8" x2="272.29999999999995" y2="414.8" stroke="#d23a55" stroke-width="1.1" />
<circle cx="268.55016181229774" cy="370.42071197411" r="1.4" fill="#c8102e"/>
<circle cx="268.55016181229774" cy="380.77669902912623" r="1.4" fill="#c8102e"/>
<circle cx="268.55016181229774" cy="384.0129449838188" r="1.4" fill="#c8102e"/>
<circle cx="268.55016181229774" cy="412.0064724919094" r="1.4" fill="#c8102e"/>
<rect x="284.4" y="403.1" width="14.100000000000023" height="22.399999999999977" fill="#88a8c3" stroke="none" stroke-width="0"/>
<line x1="291.45" y1="378" x2="291.45" y2="425.5" stroke="#2c64a0" stroke-width="1.1" />
<line x1="287.0" y1="378" x2="295.9" y2="378" stroke="#2c64a0" stroke-width="1.1" />
<line x1="287.0" y1="425.5" x2="295.9" y2="425.5" stroke="#2c64a0" stroke-width="1.1" />
<circle cx="291.3656957928803" cy="382.8802588996764" r="1.4" fill="#0b3c7b"/>
<circle cx="289.2621359223301" cy="401.8122977346278" r="1.4" fill="#0b3c7b"/>
<circle cx="294.11650485436894" cy="403.915857605178" r="1.4" fill="#0b3c7b"/>
<circle cx="291.3656957928803" cy="420.09708737864077" r="1.4" fill="#0b3c7b"/>
<line x1="253.5" y1="425.5" x2="306.3" y2="425.5" stroke="#1a1a1a" stroke-width="1.2" />
<line x1="268.65" y1="425.5" x2="268.65" y2="428.3" stroke="#1a1a1a" stroke-width="1" />
<line x1="291.45" y1="425.5" x2="291.45" y2="428.3" stroke="#1a1a1a" stroke-width="1" />
<text transform="translate(271.65,436.0) rotate(-45)" font-size="8.62" text-anchor="end" fill="#222" stroke="#222" stroke-width="0.22" textLength="44" lengthAdjust="spacingAndGlyphs">0.1% DMSO</text>
<text transform="translate(294.25,436.0) rotate(-45)" font-size="8.62" text-anchor="end" fill="#222" stroke="#222" stroke-width="0.22" textLength="60" lengthAdjust="spacingAndGlyphs">300nM duvelisib</text>
<line x1="267.9" y1="339" x2="290.7" y2="339" stroke="#333" stroke-width="1.2" />
<text transform="translate(279.29999999999995,335.8)" font-size="9.54" text-anchor="middle" fill="#222" stroke="#222" stroke-width="0.22" textLength="9.2" lengthAdjust="spacingAndGlyphs">ns</text>
<text transform="translate(230.5,388) rotate(-90)" font-size="10.35" text-anchor="middle" fill="#222" stroke="#222" stroke-width="0.22" textLength="80" lengthAdjust="spacingAndGlyphs">PD1+ CD4+ CAR T cells</text>
<line x1="356.5" y1="346" x2="356.5" y2="426.5" stroke="#1a1a1a" stroke-width="1.1" />
<line x1="353.0" y1="426.2" x2="356.5" y2="426.2" stroke="#1a1a1a" stroke-width="1.1" />
<text transform="translate(351.2,429.0869565217391)" font-size="8.3" text-anchor="end" fill="#222" stroke="#222" stroke-width="0.22">0</text>
<line x1="353.0" y1="410.15999999999997" x2="356.5" y2="410.15999999999997" stroke="#1a1a1a" stroke-width="1.1" />
<text transform="translate(351.2,413.0469565217391)" font-size="8.3" text-anchor="end" fill="#222" stroke="#222" stroke-width="0.22">20</text>
<line x1="353.0" y1="394.12" x2="356.5" y2="394.12" stroke="#1a1a1a" stroke-width="1.1" />
<text transform="translate(351.2,397.00695652173914)" font-size="8.3" text-anchor="end" fill="#222" stroke="#222" stroke-width="0.22">40</text>
<line x1="353.0" y1="378.08" x2="356.5" y2="378.08" stroke="#1a1a1a" stroke-width="1.1" />
<text transform="translate(351.2,380.9669565217391)" font-size="8.3" text-anchor="end" fill="#222" stroke="#222" stroke-width="0.22">60</text>
<line x1="353.0" y1="362.03999999999996" x2="356.5" y2="362.03999999999996" stroke="#1a1a1a" stroke-width="1.1" />
<text transform="translate(351.2,364.9269565217391)" font-size="8.3" text-anchor="end" fill="#222" stroke="#222" stroke-width="0.22">80</text>
<line x1="353.0" y1="346.0" x2="356.5" y2="346.0" stroke="#1a1a1a" stroke-width="1.1" />
<text transform="translate(351.2,348.88695652173914)" font-size="8.3" text-anchor="end" fill="#222" stroke="#222" stroke-width="0.22">100</text>
<rect x="365" y="395.8" width="14.100000000000023" height="30.69999999999999" fill="#e38a97" stroke="none" stroke-width="0"/>
<line x1="372.05" y1="376.4" x2="372.05" y2="413.1" stroke="#d23a55" stroke-width="1.1" />
<line x1="367.55" y1="376.4" x2="376.55" y2="376.4" stroke="#d23a55" stroke-width="1.1" />
<line x1="367.55" y1="413.1" x2="376.55" y2="413.1" stroke="#d23a55" stroke-width="1.1" />
<circle cx="365.37216828478967" cy="354.07766990291265" r="1.4" fill="#c8102e"/>
<circle cx="369.7411003236246" cy="354.56310679611653" r="1.4" fill="#c8102e"/>
<circle cx="374.2718446601942" cy="352.4595469255663" r="1.4" fill="#c8102e"/>
<circle cx="371.84466019417476" cy="365.88996763754045" r="1.4" fill="#c8102e"/>
<circle cx="369.7411003236246" cy="404.4012944983819" r="1.4" fill="#c8102e"/>
<circle cx="373.9482200647249" cy="403.915857605178" r="1.4" fill="#c8102e"/>
<circle cx="365.37216828478967" cy="416.8608414239482" r="1.4" fill="#c8102e"/>
<circle cx="369.7411003236246" cy="415.24271844660194" r="1.4" fill="#c8102e"/>
<circle cx="374.2718446601942" cy="415.7281553398058" r="1.4" fill="#c8102e"/>
<circle cx="378.31715210355986" cy="416.8608414239482" r="1.4" fill="#c8102e"/>
<circle cx="369.7411003236246" cy="419.2880258899676" r="1.4" fill="#c8102e"/>
<circle cx="374.2718446601942" cy="418.80258899676375" r="1.4" fill="#c8102e"/>
<rect x="388" y="412.5" width="13.800000000000011" height="14.0" fill="#88a8c3" stroke="none" stroke-width="0"/>
<line x1="394.9" y1="400.4" x2="394.9" y2="422.5" stroke="#2c64a0" stroke-width="1.1" />
<line x1="391.4" y1="400.4" x2="398.4" y2="400.4" stroke="#2c64a0" stroke-width="1.1" />
<line x1="391.4" y1="422.5" x2="398.4" y2="422.5" stroke="#2c64a0" stroke-width="1.1" />
<circle cx="392.3948220064725" cy="381.747572815534" r="1.4" fill="#0b3c7b"/>
<circle cx="395.3074433656958" cy="382.8802588996764" r="1.4" fill="#0b3c7b"/>
<circle cx="393.68932038834953" cy="384.0129449838188" r="1.4" fill="#0b3c7b"/>
<circle cx="394.8220064724919" cy="413.1391585760518" r="1.4" fill="#0b3c7b"/>
<circle cx="388.8349514563107" cy="422.5242718446602" r="1.4" fill="#0b3c7b"/>
<circle cx="391.2621359223301" cy="422.8478964401295" r="1.4" fill="#0b3c7b"/>
<circle cx="393.68932038834953" cy="422.8478964401295" r="1.4" fill="#0b3c7b"/>
<circle cx="396.9255663430421" cy="422.8478964401295" r="1.4" fill="#0b3c7b"/>
<circle cx="399.3527508090615" cy="422.8478964401295" r="1.4" fill="#0b3c7b"/>
<circle cx="401.7799352750809" cy="422.5242718446602" r="1.4" fill="#0b3c7b"/>
<line x1="356.5" y1="426.5" x2="409.9" y2="426.5" stroke="#1a1a1a" stroke-width="1.2" />
<line x1="372.05" y1="426.5" x2="372.05" y2="429.3" stroke="#1a1a1a" stroke-width="1" />
<line x1="394.9" y1="426.5" x2="394.9" y2="429.3" stroke="#1a1a1a" stroke-width="1" />
<text transform="translate(375.05,436.4) rotate(-45)" font-size="8.62" text-anchor="end" fill="#222" stroke="#222" stroke-width="0.22" textLength="44" lengthAdjust="spacingAndGlyphs">0.1% DMSO</text>
<text transform="translate(397.7,436.4) rotate(-45)" font-size="8.62" text-anchor="end" fill="#222" stroke="#222" stroke-width="0.22" textLength="60" lengthAdjust="spacingAndGlyphs">300nM duvelisib</text>
<line x1="372.1" y1="338.6" x2="394.6" y2="338.6" stroke="#333" stroke-width="1.2" />
<polygon points="381.20,331.55 381.83,332.63 383.05,332.90 382.22,333.83 382.35,335.08 381.20,334.57 380.05,335.08 380.18,333.83 379.35,332.90 380.57,332.63" fill="#111"/>
<polygon points="385.50,331.55 386.13,332.63 387.35,332.90 386.52,333.83 386.65,335.08 385.50,334.57 384.35,335.08 384.48,333.83 383.65,332.90 384.87,332.63" fill="#111"/>
<text transform="translate(333.5,389) rotate(-90)" font-size="10.35" text-anchor="middle" fill="#222" stroke="#222" stroke-width="0.22" textLength="82" lengthAdjust="spacingAndGlyphs">TIM3+ CD8+ CAR T cells</text>
<line x1="457.5" y1="346.5" x2="457.5" y2="426.5" stroke="#1a1a1a" stroke-width="1.1" />
<line x1="454.0" y1="426.9" x2="457.5" y2="426.9" stroke="#1a1a1a" stroke-width="1.1" />
<text transform="translate(452.2,429.7869565217391)" font-size="8.3" text-anchor="end" fill="#222" stroke="#222" stroke-width="0.22">0</text>
<line x1="454.0" y1="410.82" x2="457.5" y2="410.82" stroke="#1a1a1a" stroke-width="1.1" />
<text transform="translate(452.2,413.70695652173913)" font-size="8.3" text-anchor="end" fill="#222" stroke="#222" stroke-width="0.22">20</text>
<line x1="454.0" y1="394.74" x2="457.5" y2="394.74" stroke="#1a1a1a" stroke-width="1.1" />
<text transform="translate(452.2,397.62695652173915)" font-size="8.3" text-anchor="end" fill="#222" stroke="#222" stroke-width="0.22">40</text>
<line x1="454.0" y1="378.65999999999997" x2="457.5" y2="378.65999999999997" stroke="#1a1a1a" stroke-width="1.1" />
<text transform="translate(452.2,381.5469565217391)" font-size="8.3" text-anchor="end" fill="#222" stroke="#222" stroke-width="0.22">60</text>
<line x1="454.0" y1="362.58" x2="457.5" y2="362.58" stroke="#1a1a1a" stroke-width="1.1" />
<text transform="translate(452.2,365.4669565217391)" font-size="8.3" text-anchor="end" fill="#222" stroke="#222" stroke-width="0.22">80</text>
<line x1="454.0" y1="346.5" x2="457.5" y2="346.5" stroke="#1a1a1a" stroke-width="1.1" />
<text transform="translate(452.2,349.38695652173914)" font-size="8.3" text-anchor="end" fill="#222" stroke="#222" stroke-width="0.22">100</text>
<rect x="465.9" y="396.3" width="14.0" height="30.19999999999999" fill="#e38a97" stroke="none" stroke-width="0"/>
<line x1="472.9" y1="377.2" x2="472.9" y2="413.6" stroke="#d23a55" stroke-width="1.1" />
<line x1="469.4" y1="377.2" x2="476.4" y2="377.2" stroke="#d23a55" stroke-width="1.1" />
<line x1="469.4" y1="413.6" x2="476.4" y2="413.6" stroke="#d23a55" stroke-width="1.1" />
<circle cx="470.2265372168285" cy="351.00323624595467" r="1.4" fill="#c8102e"/>
<circle cx="475.5663430420712" cy="351.6504854368932" r="1.4" fill="#c8102e"/>
<circle cx="472.97734627831716" cy="356.99029126213594" r="1.4" fill="#c8102e"/>
<circle cx="472.97734627831716" cy="369.44983818770226" r="1.4" fill="#c8102e"/>
<circle cx="472.97734627831716" cy="407.9611650485437" r="1.4" fill="#c8102e"/>
<circle cx="477.831715210356" cy="406.6666666666667" r="1.4" fill="#c8102e"/>
<circle cx="468.12297734627833" cy="414.11003236245955" r="1.4" fill="#c8102e"/>
<circle cx="472.97734627831716" cy="415.24271844660194" r="1.4" fill="#c8102e"/>
<circle cx="477.831715210356" cy="415.24271844660194" r="1.4" fill="#c8102e"/>
<circle cx="468.12297734627833" cy="419.6116504854369" r="1.4" fill="#c8102e"/>
<circle cx="472.97734627831716" cy="418.4789644012945" r="1.4" fill="#c8102e"/>
<circle cx="477.831715210356" cy="419.2880258899676" r="1.4" fill="#c8102e"/>
<rect x="489.2" y="389.8" width="13.900000000000034" height="36.69999999999999" fill="#88a8c3" stroke="none" stroke-width="0"/>
<line x1="496.15" y1="374" x2="496.15" y2="403.4" stroke="#2c64a0" stroke-width="1.1" />
<line x1="492.65" y1="374" x2="499.65" y2="374" stroke="#2c64a0" stroke-width="1.1" />
<line x1="492.65" y1="403.4" x2="499.65" y2="403.4" stroke="#2c64a0" stroke-width="1.1" />
<circle cx="496.11650485436894" cy="352.13592233009706" r="1.4" fill="#0b3c7b"/>
<circle cx="496.11650485436894" cy="355.37216828478967" r="1.4" fill="#0b3c7b"/>
<circle cx="496.11650485436894" cy="362.6537216828479" r="1.4" fill="#0b3c7b"/>
<circle cx="500.97087378640776" cy="361.0355987055016" r="1.4" fill="#0b3c7b"/>
<circle cx="496.11650485436894" cy="397.92880258899675" r="1.4" fill="#0b3c7b"/>
<circle cx="491.2621359223301" cy="402.2977346278317" r="1.4" fill="#0b3c7b"/>
<circle cx="496.11650485436894" cy="401.8122977346278" r="1.4" fill="#0b3c7b"/>
<circle cx="500.97087378640776" cy="401.8122977346278" r="1.4" fill="#0b3c7b"/>
<circle cx="498.54368932038835" cy="404.72491909385116" r="1.4" fill="#0b3c7b"/>
<circle cx="493.68932038834953" cy="409.90291262135923" r="1.4" fill="#0b3c7b"/>
<circle cx="498.54368932038835" cy="409.90291262135923" r="1.4" fill="#0b3c7b"/>
<line x1="457.5" y1="426.5" x2="511.2" y2="426.5" stroke="#1a1a1a" stroke-width="1.2" />
<line x1="472.9" y1="426.5" x2="472.9" y2="429.3" stroke="#1a1a1a" stroke-width="1" />
<line x1="496.15" y1="426.5" x2="496.15" y2="429.3" stroke="#1a1a1a" stroke-width="1" />
<text transform="translate(475.9,437.09999999999997) rotate(-45)" font-size="8.62" text-anchor="end" fill="#222" stroke="#222" stroke-width="0.22" textLength="44" lengthAdjust="spacingAndGlyphs">0.1% DMSO</text>
<text transform="translate(498.95,437.09999999999997) rotate(-45)" font-size="8.62" text-anchor="end" fill="#222" stroke="#222" stroke-width="0.22" textLength="60" lengthAdjust="spacingAndGlyphs">300nM duvelisib</text>
<line x1="472.7" y1="336.8" x2="495.8" y2="336.8" stroke="#333" stroke-width="1.2" />
<polygon points="482.10,329.75 482.73,330.83 483.95,331.10 483.12,332.03 483.25,333.28 482.10,332.77 480.95,333.28 481.08,332.03 480.25,331.10 481.47,330.83" fill="#111"/>
<polygon points="486.40,329.75 487.03,330.83 488.25,331.10 487.42,332.03 487.55,333.28 486.40,332.77 485.25,333.28 485.38,332.03 484.55,331.10 485.77,330.83" fill="#111"/>
<text transform="translate(435,389) rotate(-90)" font-size="10.35" text-anchor="middle" fill="#222" stroke="#222" stroke-width="0.22" textLength="82" lengthAdjust="spacingAndGlyphs">LAG3+ CD8+ CAR T cells</text>
<text transform="translate(8.5,491.2)" font-size="12.07" text-anchor="start" fill="#000" stroke="#000" stroke-width="0.22" font-weight="bold">G</text>
<line x1="53.5" y1="501.2" x2="53.5" y2="573.5" stroke="#1a1a1a" stroke-width="1.1" />
<line x1="50.7" y1="573.5" x2="53.5" y2="573.5" stroke="#1a1a1a" stroke-width="1" />
<text transform="translate(48.9,576.4)" font-size="8.51" text-anchor="end" fill="#222" stroke="#222" stroke-width="0.12" textLength="4.2" lengthAdjust="spacingAndGlyphs">0</text>
<line x1="50.7" y1="559.04" x2="53.5" y2="559.04" stroke="#1a1a1a" stroke-width="1" />
<text transform="translate(48.9,561.9399999999999)" font-size="8.51" text-anchor="end" fill="#222" stroke="#222" stroke-width="0.12" textLength="8.2" lengthAdjust="spacingAndGlyphs">20</text>
<line x1="50.7" y1="544.58" x2="53.5" y2="544.58" stroke="#1a1a1a" stroke-width="1" />
<text transform="translate(48.9,547.48)" font-size="8.51" text-anchor="end" fill="#222" stroke="#222" stroke-width="0.12" textLength="8.2" lengthAdjust="spacingAndGlyphs">40</text>
<line x1="50.7" y1="530.12" x2="53.5" y2="530.12" stroke="#1a1a1a" stroke-width="1" />
<text transform="translate(48.9,533.02)" font-size="8.51" text-anchor="end" fill="#222" stroke="#222" stroke-width="0.12" textLength="8.2" lengthAdjust="spacingAndGlyphs">60</text>
<line x1="50.7" y1="515.66" x2="53.5" y2="515.66" stroke="#1a1a1a" stroke-width="1" />
<text transform="translate(48.9,518.56)" font-size="8.51" text-anchor="end" fill="#222" stroke="#222" stroke-width="0.12" textLength="8.2" lengthAdjust="spacingAndGlyphs">80</text>
<line x1="50.7" y1="501.2" x2="53.5" y2="501.2" stroke="#1a1a1a" stroke-width="1" />
<text transform="translate(48.9,504.09999999999997)" font-size="8.51" text-anchor="end" fill="#222" stroke="#222" stroke-width="0.12" textLength="12.8" lengthAdjust="spacingAndGlyphs">100</text>
<line x1="53.5" y1="573.5" x2="162.6" y2="573.5" stroke="#1a1a1a" stroke-width="1.2" />
<line x1="60.5" y1="573.5" x2="60.5" y2="575.9" stroke="#1a1a1a" stroke-width="1" />
<line x1="70.6" y1="573.5" x2="70.6" y2="575.9" stroke="#1a1a1a" stroke-width="1" />
<line x1="80.6" y1="573.5" x2="80.6" y2="575.9" stroke="#1a1a1a" stroke-width="1" />
<line x1="97.9" y1="573.5" x2="97.9" y2="575.9" stroke="#1a1a1a" stroke-width="1" />
<line x1="108.2" y1="573.5" x2="108.2" y2="575.9" stroke="#1a1a1a" stroke-width="1" />
<line x1="118.5" y1="573.5" x2="118.5" y2="575.9" stroke="#1a1a1a" stroke-width="1" />
<line x1="135.6" y1="573.5" x2="135.6" y2="575.9" stroke="#1a1a1a" stroke-width="1" />
<line x1="145.9" y1="573.5" x2="145.9" y2="575.9" stroke="#1a1a1a" stroke-width="1" />
<line x1="156.2" y1="573.5" x2="156.2" y2="575.9" stroke="#1a1a1a" stroke-width="1" />
<text transform="translate(57,583.1)" font-size="6.79" text-anchor="middle" fill="#333" stroke="#333" stroke-width="0.05" textLength="12" lengthAdjust="spacingAndGlyphs">0.5:1</text>
<text transform="translate(70.5,583.1)" font-size="6.79" text-anchor="middle" fill="#333" stroke="#333" stroke-width="0.05" textLength="7" lengthAdjust="spacingAndGlyphs">1:1</text>
<text transform="translate(81.4,583.1)" font-size="6.79" text-anchor="middle" fill="#333" stroke="#333" stroke-width="0.05" textLength="7" lengthAdjust="spacingAndGlyphs">2:1</text>
<text transform="translate(95.5,583.1)" font-size="6.79" text-anchor="middle" fill="#333" stroke="#333" stroke-width="0.05" textLength="12" lengthAdjust="spacingAndGlyphs">0.5:1</text>
<text transform="translate(108.3,583.1)" font-size="6.79" text-anchor="middle" fill="#333" stroke="#333" stroke-width="0.05" textLength="7" lengthAdjust="spacingAndGlyphs">1:1</text>
<text transform="translate(119.4,583.1)" font-size="6.79" text-anchor="middle" fill="#333" stroke="#333" stroke-width="0.05" textLength="7" lengthAdjust="spacingAndGlyphs">2:1</text>
<text transform="translate(135.6,583.1)" font-size="6.79" text-anchor="middle" fill="#333" stroke="#333" stroke-width="0.05" textLength="12" lengthAdjust="spacingAndGlyphs">0.5:1</text>
<text transform="translate(146.3,583.1)" font-size="6.79" text-anchor="middle" fill="#333" stroke="#333" stroke-width="0.05" textLength="7" lengthAdjust="spacingAndGlyphs">1:1</text>
<text transform="translate(157.2,583.1)" font-size="6.79" text-anchor="middle" fill="#333" stroke="#333" stroke-width="0.05" textLength="7" lengthAdjust="spacingAndGlyphs">2:1</text>
<text transform="translate(108.7,594.6)" font-size="11.04" text-anchor="middle" fill="#222" stroke="#222" stroke-width="0.1" textLength="102" lengthAdjust="spacingAndGlyphs">CD8 effector to target cell ratio</text>
<text transform="translate(60.3,603.4)" font-size="7.59" text-anchor="middle" fill="#222" stroke="#222" stroke-width="0.08" textLength="21" lengthAdjust="spacingAndGlyphs">Control</text>
<text transform="translate(60.3,610.9)" font-size="7.59" text-anchor="middle" fill="#222" stroke="#222" stroke-width="0.08" textLength="15.5" lengthAdjust="spacingAndGlyphs">CART</text>
<text transform="translate(107,603.4)" font-size="7.59" text-anchor="middle" fill="#222" stroke="#222" stroke-width="0.08" textLength="28.5" lengthAdjust="spacingAndGlyphs">Duv-CART</text>
<text transform="translate(107,610.9)" font-size="7.59" text-anchor="middle" fill="#222" stroke="#222" stroke-width="0.08" textLength="37.5" lengthAdjust="spacingAndGlyphs">(w/ duvelisib)</text>
<text transform="translate(154,603.4)" font-size="7.59" text-anchor="middle" fill="#222" stroke="#222" stroke-width="0.08" textLength="28.5" lengthAdjust="spacingAndGlyphs">Duv-CART</text>
<text transform="translate(154.3,610.9)" font-size="7.59" text-anchor="middle" fill="#222" stroke="#222" stroke-width="0.08" textLength="25.5" lengthAdjust="spacingAndGlyphs">(washed)</text>
<text transform="translate(24.2,537) rotate(-90)" font-size="10.58" text-anchor="middle" fill="#222" stroke="#222" stroke-width="0.12" textLength="62.5" lengthAdjust="spacingAndGlyphs">% specific OSU-CLL</text>
<text transform="translate(34.7,537) rotate(-90)" font-size="10.58" text-anchor="middle" fill="#222" stroke="#222" stroke-width="0.12" textLength="31" lengthAdjust="spacingAndGlyphs">cell death</text>
<line x1="60.3" y1="549.7995870278149" x2="60.3" y2="554.4151585084417" stroke="#c8102e" stroke-width="1.0" />
<line x1="55.8" y1="552.2288351755132" x2="64.8" y2="552.2288351755132" stroke="#c8102e" stroke-width="1.1" />
<line x1="57.099999999999994" y1="549.7995870278149" x2="63.5" y2="549.7995870278149" stroke="#c8102e" stroke-width="1.0" />
<line x1="57.099999999999994" y1="554.4151585084417" x2="63.5" y2="554.4151585084417" stroke="#c8102e" stroke-width="1.0" />
<circle cx="58.073120369245714" cy="541.9045305477955" r="1.2" fill="#c8102e"/>
<circle cx="59.895056480019434" cy="542.7547673994899" r="1.2" fill="#c8102e"/>
<circle cx="62.32430462771772" cy="541.9045305477955" r="1.2" fill="#c8102e"/>
<circle cx="61.10968055386858" cy="543.7264666585692" r="1.2" fill="#c8102e"/>
<circle cx="58.68043240617029" cy="549.1922749908903" r="1.2" fill="#c8102e"/>
<circle cx="60.74529333171383" cy="548.5849629539657" r="1.2" fill="#c8102e"/>
<circle cx="58.073120369245714" cy="551.014211101664" r="1.2" fill="#c8102e"/>
<circle cx="60.502368516944" cy="551.014211101664" r="1.2" fill="#c8102e"/>
<circle cx="62.93161666464229" cy="551.6215231385886" r="1.2" fill="#c8102e"/>
<circle cx="59.53066925786469" cy="553.4434592493624" r="1.2" fill="#c8102e"/>
<circle cx="60.502368516944" cy="557.6946435078344" r="1.2" fill="#c8102e"/>
<circle cx="59.895056480019434" cy="562.5531398032309" r="1.2" fill="#c8102e"/>
<circle cx="59.53066925786469" cy="565.5896999878537" r="1.2" fill="#c8102e"/>
<circle cx="61.10968055386858" cy="566.1970120247784" r="1.2" fill="#c8102e"/>
<line x1="70.5" y1="539.1108951779424" x2="70.5" y2="543.969391473339" stroke="#c8102e" stroke-width="1.0" />
<line x1="66.0" y1="541.2972185108708" x2="75.0" y2="541.2972185108708" stroke="#c8102e" stroke-width="1.1" />
<line x1="67.3" y1="539.1108951779424" x2="73.7" y2="539.1108951779424" stroke="#c8102e" stroke-width="1.0" />
<line x1="67.3" y1="543.969391473339" x2="73.7" y2="543.969391473339" stroke="#c8102e" stroke-width="1.0" />
<circle cx="70.82667314466173" cy="525.507105550832" r="1.2" fill="#c8102e"/>
<circle cx="70.82667314466173" cy="530.9729138831532" r="1.2" fill="#c8102e"/>
<circle cx="73.25592129236001" cy="534.0094740677761" r="1.2" fill="#c8102e"/>
<circle cx="70.82667314466173" cy="535.8314101785497" r="1.2" fill="#c8102e"/>
<circle cx="69.61204907081259" cy="539.1108951779424" r="1.2" fill="#c8102e"/>
<circle cx="73.25592129236001" cy="538.8679703631726" r="1.2" fill="#c8102e"/>
<circle cx="69.004737033888" cy="541.2972185108708" r="1.2" fill="#c8102e"/>
<circle cx="72.04129721851086" cy="541.5401433256407" r="1.2" fill="#c8102e"/>
<circle cx="70.82667314466173" cy="545.5484027693428" r="1.2" fill="#c8102e"/>
<circle cx="68.39742499696344" cy="561.3385157293817" r="1.2" fill="#c8102e"/>
<circle cx="71.4339851815863" cy="559.516579618608" r="1.2" fill="#c8102e"/>
<circle cx="73.25592129236001" cy="560.7312036924571" r="1.2" fill="#c8102e"/>
<line x1="80.9" y1="529.1509777723794" x2="80.9" y2="535.2240981416252" stroke="#c8102e" stroke-width="1.0" />
<line x1="76.4" y1="531.8231507348476" x2="85.4" y2="531.8231507348476" stroke="#c8102e" stroke-width="1.1" />
<line x1="77.7" y1="529.1509777723794" x2="84.10000000000001" y2="529.1509777723794" stroke="#c8102e" stroke-width="1.0" />
<line x1="77.7" y1="535.2240981416252" x2="84.10000000000001" y2="535.2240981416252" stroke="#c8102e" stroke-width="1.0" />
<circle cx="78.72172962468116" cy="524.8997935139074" r="1.2" fill="#c8102e"/>
<circle cx="83.3373011053079" cy="523.6851694400583" r="1.2" fill="#c8102e"/>
<circle cx="79.9363536985303" cy="526.1144175877566" r="1.2" fill="#c8102e"/>
<circle cx="82.36560184622859" cy="526.7217296246812" r="1.2" fill="#c8102e"/>
<circle cx="78.11441758775659" cy="528.1792785133001" r="1.2" fill="#c8102e"/>
<circle cx="80.54366573545488" cy="529.758289809304" r="1.2" fill="#c8102e"/>
<circle cx="82.97291388315315" cy="529.758289809304" r="1.2" fill="#c8102e"/>
<circle cx="79.32904166160573" cy="531.5802259200777" r="1.2" fill="#c8102e"/>
<circle cx="81.15097777237945" cy="532.7948499939268" r="1.2" fill="#c8102e"/>
<circle cx="82.97291388315315" cy="533.4021620308514" r="1.2" fill="#c8102e"/>
<circle cx="80.54366573545488" cy="536.1957974007045" r="1.2" fill="#c8102e"/>
<circle cx="82.97291388315315" cy="547.9776509170412" r="1.2" fill="#c8102e"/>
<circle cx="80.90805295760961" cy="549.556662213045" r="1.2" fill="#c8102e"/>
<circle cx="80.90805295760961" cy="553.4434592493624" r="1.2" fill="#c8102e"/>
<line x1="98.2" y1="539.4752824000972" x2="98.2" y2="546.763026843192" stroke="#0f4585" stroke-width="1.0" />
<line x1="93.7" y1="542.5118425847201" x2="102.7" y2="542.5118425847201" stroke="#0f4585" stroke-width="1.1" />
<line x1="95.0" y1="539.4752824000972" x2="101.4" y2="539.4752824000972" stroke="#0f4585" stroke-width="1.0" />
<line x1="95.0" y1="546.763026843192" x2="101.4" y2="546.763026843192" stroke="#0f4585" stroke-width="1.0" />
<path d="M95.73,524.81 L97.03,527.11 L94.43,527.11 Z" fill="#0f4585"/>
<path d="M99.98,524.81 L101.28,527.11 L98.68,527.11 Z" fill="#0f4585"/>
<path d="M98.16,526.64 L99.46,528.94 L96.86,528.94 Z" fill="#0f4585"/>
<path d="M99.98,530.89 L101.28,533.19 L98.68,533.19 Z" fill="#0f4585"/>
<path d="M98.16,532.71 L99.46,535.01 L96.86,535.01 Z" fill="#0f4585"/>
<path d="M95.73,538.18 L97.03,540.48 L94.43,540.48 Z" fill="#0f4585"/>
<path d="M99.98,540.60 L101.28,542.90 L98.68,542.90 Z" fill="#0f4585"/>
<path d="M97.55,544.25 L98.85,546.55 L96.25,546.55 Z" fill="#0f4585"/>
<path d="M98.16,550.93 L99.46,553.23 L96.86,553.23 Z" fill="#0f4585"/>
<path d="M96.94,553.97 L98.24,556.27 L95.64,556.27 Z" fill="#0f4585"/>
<path d="M99.37,554.57 L100.67,556.87 L98.07,556.87 Z" fill="#0f4585"/>
<path d="M98.16,558.22 L99.46,560.52 L96.86,560.52 Z" fill="#0f4585"/>
<line x1="108.1" y1="527.6934288837605" x2="108.1" y2="533.0377748086967" stroke="#0f4585" stroke-width="1.0" />
<line x1="103.6" y1="529.758289809304" x2="112.6" y2="529.758289809304" stroke="#0f4585" stroke-width="1.1" />
<line x1="104.89999999999999" y1="527.6934288837605" x2="111.3" y2="527.6934288837605" stroke="#0f4585" stroke-width="1.0" />
<line x1="104.89999999999999" y1="533.0377748086967" x2="111.3" y2="533.0377748086967" stroke="#0f4585" stroke-width="1.0" />
<path d="M106.66,514.49 L107.96,516.79 L105.36,516.79 Z" fill="#0f4585"/>
<path d="M107.87,518.13 L109.17,520.43 L106.57,520.43 Z" fill="#0f4585"/>
<path d="M110.30,518.74 L111.60,521.04 L109.00,521.04 Z" fill="#0f4585"/>
<path d="M106.05,527.85 L107.35,530.15 L104.75,530.15 Z" fill="#0f4585"/>
<path d="M107.87,528.46 L109.17,530.76 L106.57,530.76 Z" fill="#0f4585"/>
<path d="M110.30,528.82 L111.60,531.12 L109.00,531.12 Z" fill="#0f4585"/>
<path d="M107.27,530.89 L108.57,533.19 L105.97,533.19 Z" fill="#0f4585"/>
<path d="M109.09,532.10 L110.39,534.40 L107.79,534.40 Z" fill="#0f4585"/>
<path d="M107.87,537.57 L109.17,539.87 L106.57,539.87 Z" fill="#0f4585"/>
<path d="M108.48,541.21 L109.78,543.51 L107.18,543.51 Z" fill="#0f4585"/>
<path d="M107.87,544.86 L109.17,547.16 L106.57,547.16 Z" fill="#0f4585"/>
<line x1="118.6" y1="517.3285277413718" x2="118.6" y2="524.0272316877822" stroke="#0f4585" stroke-width="1.0" />
<line x1="114.1" y1="519.949759720402" x2="123.1" y2="519.949759720402" stroke="#0f4585" stroke-width="1.1" />
<line x1="115.39999999999999" y1="517.3285277413718" x2="121.8" y2="517.3285277413718" stroke="#0f4585" stroke-width="1.0" />
<line x1="115.39999999999999" y1="524.0272316877822" x2="121.8" y2="524.0272316877822" stroke="#0f4585" stroke-width="1.0" />
<path d="M117.83,511.37 L119.13,513.67 L116.53,513.67 Z" fill="#0f4585"/>
<path d="M120.02,512.82 L121.32,515.12 L118.72,515.12 Z" fill="#0f4585"/>
<path d="M117.11,515.01 L118.41,517.31 L115.81,517.31 Z" fill="#0f4585"/>
<path d="M118.56,516.90 L119.86,519.20 L117.26,519.20 Z" fill="#0f4585"/>
<path d="M120.75,518.65 L122.05,520.95 L119.45,520.95 Z" fill="#0f4585"/>
<path d="M117.83,520.83 L119.13,523.13 L116.53,523.13 Z" fill="#0f4585"/>
<path d="M120.02,522.73 L121.32,525.03 L118.72,525.03 Z" fill="#0f4585"/>
<path d="M117.83,526.66 L119.13,528.96 L116.53,528.96 Z" fill="#0f4585"/>
<path d="M119.29,530.30 L120.59,532.60 L117.99,532.60 Z" fill="#0f4585"/>
<line x1="135.7" y1="538.589631571283" x2="135.7" y2="544.7058395223532" stroke="#2fb02f" stroke-width="1.0" />
<line x1="131.2" y1="541.065239551478" x2="140.2" y2="541.065239551478" stroke="#2fb02f" stroke-width="1.1" />
<line x1="132.5" y1="538.589631571283" x2="138.89999999999998" y2="538.589631571283" stroke="#2fb02f" stroke-width="1.0" />
<line x1="132.5" y1="544.7058395223532" x2="138.89999999999998" y2="544.7058395223532" stroke="#2fb02f" stroke-width="1.0" />
<circle cx="134.8722877530217" cy="527.2309596621524" r="1.2" fill="#2fb02f"/>
<circle cx="137.20227173438184" cy="527.2309596621524" r="1.2" fill="#2fb02f"/>
<circle cx="133.85291976117665" cy="533.7840396097276" r="1.2" fill="#2fb02f"/>
<circle cx="136.03727974370176" cy="535.2402795980778" r="1.2" fill="#2fb02f"/>
<circle cx="138.2216397262269" cy="534.5121596039028" r="1.2" fill="#2fb02f"/>
<circle cx="134.5810397553517" cy="540.337119557303" r="1.2" fill="#2fb02f"/>
<circle cx="135.74603174603175" cy="542.5214795398282" r="1.2" fill="#2fb02f"/>
<circle cx="137.49351973205185" cy="541.065239551478" r="1.2" fill="#2fb02f"/>
<circle cx="135.74603174603175" cy="545.4339595165284" r="1.2" fill="#2fb02f"/>
<circle cx="135.74603174603175" cy="549.0745594874036" r="1.2" fill="#2fb02f"/>
<circle cx="135.74603174603175" cy="552.7151594582788" r="1.2" fill="#2fb02f"/>
<circle cx="135.74603174603175" cy="556.355759429154" r="1.2" fill="#2fb02f"/>
<circle cx="135.74603174603175" cy="561.0157273918742" r="1.2" fill="#2fb02f"/>
<line x1="145.9" y1="523.5903596912772" x2="145.9" y2="530.1434396388524" stroke="#2fb02f" stroke-width="1.0" />
<line x1="141.4" y1="526.9397116644823" x2="150.4" y2="526.9397116644823" stroke="#2fb02f" stroke-width="1.1" />
<line x1="142.70000000000002" y1="523.5903596912772" x2="149.1" y2="523.5903596912772" stroke="#2fb02f" stroke-width="1.0" />
<line x1="142.70000000000002" y1="530.1434396388524" x2="149.1" y2="530.1434396388524" stroke="#2fb02f" stroke-width="1.0" />
<circle cx="144.77471967380225" cy="515.5810397553516" r="1.2" fill="#2fb02f"/>
<circle cx="146.95907965632736" cy="517.7653997378768" r="1.2" fill="#2fb02f"/>
<circle cx="143.31847968545216" cy="523.1534876947721" r="1.2" fill="#2fb02f"/>
<circle cx="147.6871996505024" cy="523.5903596912772" r="1.2" fill="#2fb02f"/>
<circle cx="145.5028396679773" cy="525.7747196738022" r="1.2" fill="#2fb02f"/>
<circle cx="144.0465996796272" cy="527.9590796563274" r="1.2" fill="#2fb02f"/>
<circle cx="146.23095966215232" cy="530.1434396388524" r="1.2" fill="#2fb02f"/>
<circle cx="144.77471967380225" cy="535.2402795980778" r="1.2" fill="#2fb02f"/>
<circle cx="147.6871996505024" cy="535.9683995922528" r="1.2" fill="#2fb02f"/>
<circle cx="146.23095966215232" cy="539.608999563128" r="1.2" fill="#2fb02f"/>
<line x1="155.7" y1="518.2022717343818" x2="155.7" y2="525.0465996796272" stroke="#2fb02f" stroke-width="1.0" />
<line x1="151.2" y1="521.405999708752" x2="160.2" y2="521.405999708752" stroke="#2fb02f" stroke-width="1.1" />
<line x1="152.5" y1="518.2022717343818" x2="158.89999999999998" y2="518.2022717343818" stroke="#2fb02f" stroke-width="1.0" />
<line x1="152.5" y1="525.0465996796272" x2="158.89999999999998" y2="525.0465996796272" stroke="#2fb02f" stroke-width="1.0" />
<circle cx="154.24027959807776" cy="511.9404397844765" r="1.2" fill="#2fb02f"/>
<circle cx="157.15275957477792" cy="512.6685597786516" r="1.2" fill="#2fb02f"/>
<circle cx="154.9683995922528" cy="514.1247997670016" r="1.2" fill="#2fb02f"/>
<circle cx="158.608999563128" cy="514.8529197611766" r="1.2" fill="#2fb02f"/>
<circle cx="155.69651958642783" cy="516.3091597495268" r="1.2" fill="#2fb02f"/>
<circle cx="157.88087956895296" cy="518.2022717343818" r="1.2" fill="#2fb02f"/>
<circle cx="154.24027959807776" cy="521.405999708752" r="1.2" fill="#2fb02f"/>
<circle cx="156.4246395806029" cy="524.3184796854522" r="1.2" fill="#2fb02f"/>
<circle cx="154.9683995922528" cy="528.6871996505024" r="1.2" fill="#2fb02f"/>
<circle cx="157.88087956895296" cy="530.1434396388524" r="1.2" fill="#2fb02f"/>
<circle cx="155.69651958642783" cy="538.880879568953" r="1.2" fill="#2fb02f"/>
<line x1="59.3" y1="519.1" x2="97.9" y2="519.1" stroke="#555" stroke-width="1.4" />
<polygon points="66.30,513.85 66.93,514.93 68.15,515.20 67.32,516.13 67.45,517.38 66.30,516.87 65.15,517.38 65.28,516.13 64.45,515.20 65.67,514.93" fill="#111"/>
<line x1="70" y1="512.8" x2="108.1" y2="512.8" stroke="#555" stroke-width="1.4" />
<polygon points="74.85,507.85 75.48,508.93 76.70,509.20 75.87,510.13 76.00,511.38 74.85,510.87 73.70,511.38 73.83,510.13 73.00,509.20 74.22,508.93" fill="#111"/>
<polygon points="79.15,507.85 79.78,508.93 81.00,509.20 80.17,510.13 80.30,511.38 79.15,510.87 78.00,511.38 78.13,510.13 77.30,509.20 78.52,508.93" fill="#111"/>
<line x1="80.2" y1="507.3" x2="118.6" y2="507.3" stroke="#555" stroke-width="1.4" />
<polygon points="84.90,501.85 85.53,502.93 86.75,503.20 85.92,504.13 86.05,505.38 84.90,504.87 83.75,505.38 83.88,504.13 83.05,503.20 84.27,502.93" fill="#111"/>
<polygon points="89.20,501.85 89.83,502.93 91.05,503.20 90.22,504.13 90.35,505.38 89.20,504.87 88.05,505.38 88.18,504.13 87.35,503.20 88.57,502.93" fill="#111"/>
<polygon points="93.50,501.85 94.13,502.93 95.35,503.20 94.52,504.13 94.65,505.38 93.50,504.87 92.35,505.38 92.48,504.13 91.65,503.20 92.87,502.93" fill="#111"/>
<path d="M98.2,498.8 V495.9 H118.6 V498.8 M108.4,498.8 V491.6 H144.8 V498.8 M134.6,498.8 V495.9 H155 V498.8" fill="none" stroke="#333" stroke-width="1.1"/>
<text transform="translate(126.6,490.6)" font-size="9.89" text-anchor="middle" fill="#222" stroke="#222" stroke-width="0.12" textLength="11" lengthAdjust="spacingAndGlyphs">ns</text>
<text transform="translate(189.6,490.5)" font-size="12.07" text-anchor="start" fill="#000" stroke="#000" stroke-width="0.22" font-weight="bold">H</text>
<circle cx="204.2" cy="494.2" r="0.9" fill="#1d5a98"/>
<text transform="translate(206.9,496.8)" font-size="7.59" text-anchor="start" fill="#3b70aa" stroke="#3b70aa" stroke-width="0.1" textLength="55.8" lengthAdjust="spacingAndGlyphs">Control CAR T cells</text>
<circle cx="204.2" cy="502.8" r="0.9" fill="#c8102e"/>
<text transform="translate(206.9,505.5)" font-size="7.59" text-anchor="start" fill="#d0405a" stroke="#d0405a" stroke-width="0.1" textLength="45.8" lengthAdjust="spacingAndGlyphs">Duv-CAR T cells</text>
<text transform="translate(199.6,537.2) rotate(-90)" font-size="9.66" text-anchor="middle" fill="#222" stroke="#222" stroke-width="0.22" textLength="56.7" lengthAdjust="spacingAndGlyphs">% specific OSU-CLL</text>
<text transform="translate(210.8,539.5) rotate(-90)" font-size="9.66" text-anchor="middle" fill="#222" stroke="#222" stroke-width="0.22" textLength="30.7" lengthAdjust="spacingAndGlyphs">cell death</text>
<rect x="259.09826929733475" y="533.0408099688474" width="1.8" height="1.8" fill="#1d5a98" stroke="none" stroke-width="0"/>
<rect x="259.09826929733475" y="536.5022152994115" width="1.8" height="1.8" fill="#1d5a98" stroke="none" stroke-width="0"/>
<rect x="259.09826929733475" y="539.0982692973347" width="1.8" height="1.8" fill="#1d5a98" stroke="none" stroke-width="0"/>
<rect x="259.09826929733475" y="546.0210799584631" width="1.8" height="1.8" fill="#1d5a98" stroke="none" stroke-width="0"/>
<rect x="259.09826929733475" y="550.3478366216684" width="1.8" height="1.8" fill="#1d5a98" stroke="none" stroke-width="0"/>
<rect x="259.09826929733475" y="558.1359986154379" width="1.8" height="1.8" fill="#1d5a98" stroke="none" stroke-width="0"/>
<rect x="261.6943232952579" y="533.9061613014884" width="1.8" height="1.8" fill="#1d5a98" stroke="none" stroke-width="0"/>
<rect x="261.6943232952579" y="537.3675666320527" width="1.8" height="1.8" fill="#1d5a98" stroke="none" stroke-width="0"/>
<rect x="261.6943232952579" y="540.8289719626168" width="1.8" height="1.8" fill="#1d5a98" stroke="none" stroke-width="0"/>
<rect x="261.6943232952579" y="543.42502596054" width="1.8" height="1.8" fill="#1d5a98" stroke="none" stroke-width="0"/>
<rect x="261.6943232952579" y="550.3478366216684" width="1.8" height="1.8" fill="#1d5a98" stroke="none" stroke-width="0"/>
<rect x="267.75178262374527" y="515.7337833160263" width="1.8" height="1.8" fill="#1d5a98" stroke="none" stroke-width="0"/>
<rect x="267.75178262374527" y="518.3298373139495" width="1.8" height="1.8" fill="#1d5a98" stroke="none" stroke-width="0"/>
<rect x="267.75178262374527" y="522.6565939771548" width="1.8" height="1.8" fill="#1d5a98" stroke="none" stroke-width="0"/>
<rect x="267.75178262374527" y="525.2526479750779" width="1.8" height="1.8" fill="#1d5a98" stroke="none" stroke-width="0"/>
<rect x="267.75178262374527" y="528.7140533056421" width="1.8" height="1.8" fill="#1d5a98" stroke="none" stroke-width="0"/>
<rect x="267.75178262374527" y="531.3101073035652" width="1.8" height="1.8" fill="#1d5a98" stroke="none" stroke-width="0"/>
<rect x="269.48248528902735" y="514.8684319833852" width="1.8" height="1.8" fill="#1d5a98" stroke="none" stroke-width="0"/>
<rect x="269.48248528902735" y="524.3872966424368" width="1.8" height="1.8" fill="#1d5a98" stroke="none" stroke-width="0"/>
<rect x="269.48248528902735" y="527.8487019730011" width="1.8" height="1.8" fill="#1d5a98" stroke="none" stroke-width="0"/>
<rect x="275.5399446175147" y="513.1377293181032" width="1.8" height="1.8" fill="#1d5a98" stroke="none" stroke-width="0"/>
<rect x="275.5399446175147" y="518.3298373139495" width="1.8" height="1.8" fill="#1d5a98" stroke="none" stroke-width="0"/>
<rect x="275.5399446175147" y="522.6565939771548" width="1.8" height="1.8" fill="#1d5a98" stroke="none" stroke-width="0"/>
<rect x="275.5399446175147" y="527.8487019730011" width="1.8" height="1.8" fill="#1d5a98" stroke="none" stroke-width="0"/>
<rect x="279.00134994807894" y="508.8109726548979" width="1.8" height="1.8" fill="#1d5a98" stroke="none" stroke-width="0"/>
<rect x="279.00134994807894" y="511.40702665282106" width="1.8" height="1.8" fill="#1d5a98" stroke="none" stroke-width="0"/>
<rect x="279.00134994807894" y="516.5991346486674" width="1.8" height="1.8" fill="#1d5a98" stroke="none" stroke-width="0"/>
<rect x="279.00134994807894" y="526.117999307719" width="1.8" height="1.8" fill="#1d5a98" stroke="none" stroke-width="0"/>
<rect x="283.3281066112842" y="510.54167532018" width="1.8" height="1.8" fill="#1d5a98" stroke="none" stroke-width="0"/>
<rect x="283.3281066112842" y="513.1377293181032" width="1.8" height="1.8" fill="#1d5a98" stroke="none" stroke-width="0"/>
<rect x="283.3281066112842" y="515.7337833160263" width="1.8" height="1.8" fill="#1d5a98" stroke="none" stroke-width="0"/>
<rect x="283.3281066112842" y="520.0605399792316" width="1.8" height="1.8" fill="#1d5a98" stroke="none" stroke-width="0"/>
<rect x="285.9241606092074" y="514.0030806507442" width="1.8" height="1.8" fill="#1d5a98" stroke="none" stroke-width="0"/>
<rect x="285.9241606092074" y="516.5991346486674" width="1.8" height="1.8" fill="#1d5a98" stroke="none" stroke-width="0"/>
<rect x="289.3855659397716" y="507.08026998961583" width="1.8" height="1.8" fill="#1d5a98" stroke="none" stroke-width="0"/>
<rect x="289.3855659397716" y="508.8109726548979" width="1.8" height="1.8" fill="#1d5a98" stroke="none" stroke-width="0"/>
<rect x="289.3855659397716" y="511.40702665282106" width="1.8" height="1.8" fill="#1d5a98" stroke="none" stroke-width="0"/>
<rect x="289.3855659397716" y="513.1377293181032" width="1.8" height="1.8" fill="#1d5a98" stroke="none" stroke-width="0"/>
<rect x="289.3855659397716" y="530.4447559709242" width="1.8" height="1.8" fill="#1d5a98" stroke="none" stroke-width="0"/>
<rect x="289.3855659397716" y="532.1754586362064" width="1.8" height="1.8" fill="#1d5a98" stroke="none" stroke-width="0"/>
<rect x="298.0390792661821" y="507.08026998961583" width="1.8" height="1.8" fill="#1d5a98" stroke="none" stroke-width="0"/>
<rect x="298.0390792661821" y="508.8109726548979" width="1.8" height="1.8" fill="#1d5a98" stroke="none" stroke-width="0"/>
<rect x="298.0390792661821" y="510.54167532018" width="1.8" height="1.8" fill="#1d5a98" stroke="none" stroke-width="0"/>
<rect x="298.0390792661821" y="527.8487019730011" width="1.8" height="1.8" fill="#1d5a98" stroke="none" stroke-width="0"/>
<rect x="298.0390792661821" y="531.3101073035652" width="1.8" height="1.8" fill="#1d5a98" stroke="none" stroke-width="0"/>
<rect x="298.0390792661821" y="533.9061613014884" width="1.8" height="1.8" fill="#1d5a98" stroke="none" stroke-width="0"/>
<rect x="240.92589131187262" y="530.4447559709242" width="1.8" height="1.8" fill="#c8102e" stroke="none" stroke-width="0"/>
<rect x="240.92589131187262" y="532.5215991692628" width="1.8" height="1.8" fill="#c8102e" stroke="none" stroke-width="0"/>
<rect x="240.92589131187262" y="535.2907234337141" width="1.8" height="1.8" fill="#c8102e" stroke="none" stroke-width="0"/>
<rect x="240.92589131187262" y="539.9636206299758" width="1.8" height="1.8" fill="#c8102e" stroke="none" stroke-width="0"/>
<rect x="240.92589131187262" y="549.136344755971" width="1.8" height="1.8" fill="#c8102e" stroke="none" stroke-width="0"/>
<rect x="244.90650744202145" y="530.4447559709242" width="1.8" height="1.8" fill="#c8102e" stroke="none" stroke-width="0"/>
<rect x="244.90650744202145" y="533.0408099688474" width="1.8" height="1.8" fill="#c8102e" stroke="none" stroke-width="0"/>
<rect x="252.52159916926271" y="516.5991346486674" width="1.8" height="1.8" fill="#c8102e" stroke="none" stroke-width="0"/>
<rect x="252.52159916926271" y="521.7912426445137" width="1.8" height="1.8" fill="#c8102e" stroke="none" stroke-width="0"/>
<rect x="252.52159916926271" y="523.5219453097958" width="1.8" height="1.8" fill="#c8102e" stroke="none" stroke-width="0"/>
<rect x="252.52159916926271" y="526.117999307719" width="1.8" height="1.8" fill="#c8102e" stroke="none" stroke-width="0"/>
<rect x="252.52159916926271" y="528.7140533056421" width="1.8" height="1.8" fill="#c8102e" stroke="none" stroke-width="0"/>
<rect x="252.52159916926271" y="535.6368639667705" width="1.8" height="1.8" fill="#c8102e" stroke="none" stroke-width="0"/>
<rect x="252.52159916926271" y="554.6745932848737" width="1.8" height="1.8" fill="#c8102e" stroke="none" stroke-width="0"/>
<rect x="252.52159916926271" y="556.7514364832122" width="1.8" height="1.8" fill="#c8102e" stroke="none" stroke-width="0"/>
<rect x="252.52159916926271" y="559.001349948079" width="1.8" height="1.8" fill="#c8102e" stroke="none" stroke-width="0"/>
<rect x="252.52159916926271" y="560.3859120803046" width="1.8" height="1.8" fill="#c8102e" stroke="none" stroke-width="0"/>
<rect x="254.77151263412944" y="518.3298373139495" width="1.8" height="1.8" fill="#c8102e" stroke="none" stroke-width="0"/>
<rect x="254.77151263412944" y="521.7912426445137" width="1.8" height="1.8" fill="#c8102e" stroke="none" stroke-width="0"/>
<rect x="254.77151263412944" y="526.98335064036" width="1.8" height="1.8" fill="#c8102e" stroke="none" stroke-width="0"/>
<rect x="264.29037729318105" y="515.7337833160263" width="1.8" height="1.8" fill="#c8102e" stroke="none" stroke-width="0"/>
<rect x="264.29037729318105" y="516.5991346486674" width="1.8" height="1.8" fill="#c8102e" stroke="none" stroke-width="0"/>
<rect x="264.29037729318105" y="520.0605399792316" width="1.8" height="1.8" fill="#c8102e" stroke="none" stroke-width="0"/>
<rect x="264.29037729318105" y="525.2526479750779" width="1.8" height="1.8" fill="#c8102e" stroke="none" stroke-width="0"/>
<rect x="264.29037729318105" y="533.9061613014884" width="1.8" height="1.8" fill="#c8102e" stroke="none" stroke-width="0"/>
<rect x="264.29037729318105" y="545.1557286258221" width="1.8" height="1.8" fill="#c8102e" stroke="none" stroke-width="0"/>
<rect x="264.29037729318105" y="550.3478366216684" width="1.8" height="1.8" fill="#c8102e" stroke="none" stroke-width="0"/>
<rect x="264.29037729318105" y="555.5399446175147" width="1.8" height="1.8" fill="#c8102e" stroke="none" stroke-width="0"/>
<rect x="274.6745932848737" y="528.7140533056421" width="1.8" height="1.8" fill="#c8102e" stroke="none" stroke-width="0"/>
<rect x="274.6745932848737" y="536.5022152994115" width="1.8" height="1.8" fill="#c8102e" stroke="none" stroke-width="0"/>
<rect x="274.6745932848737" y="539.0982692973347" width="1.8" height="1.8" fill="#c8102e" stroke="none" stroke-width="0"/>
<rect x="274.6745932848737" y="541.694323295258" width="1.8" height="1.8" fill="#c8102e" stroke="none" stroke-width="0"/>
<rect x="274.6745932848737" y="543.0788854274836" width="1.8" height="1.8" fill="#c8102e" stroke="none" stroke-width="0"/>
<rect x="290.2509172724126" y="513.1377293181032" width="1.8" height="1.8" fill="#c8102e" stroke="none" stroke-width="0"/>
<line x1="241.8" y1="541.4" x2="298.9" y2="512.3" stroke="#d32a45" stroke-width="1.5" stroke-dasharray="3.5,1.8"/>
<line x1="293.7" y1="501" x2="293.7" y2="573.5" stroke="#555" stroke-width="1.8" />
<line x1="220" y1="573.1" x2="330.8" y2="573.1" stroke="#555" stroke-width="1.8" />
<text transform="translate(292.2,500.8)" font-size="5.98" text-anchor="end" fill="#333" textLength="8" lengthAdjust="spacingAndGlyphs">100</text>
<text transform="translate(292.2,516.3)" font-size="5.98" text-anchor="end" fill="#333" textLength="5.6" lengthAdjust="spacingAndGlyphs">80</text>
<text transform="translate(292.2,531.6)" font-size="5.98" text-anchor="end" fill="#333" textLength="5.6" lengthAdjust="spacingAndGlyphs">60</text>
<text transform="translate(292.2,546.3)" font-size="5.98" text-anchor="end" fill="#333" textLength="5.6" lengthAdjust="spacingAndGlyphs">40</text>
<text transform="translate(292.2,561)" font-size="5.98" text-anchor="end" fill="#333" textLength="5.6" lengthAdjust="spacingAndGlyphs">20</text>
<text transform="translate(292.2,575.7)" font-size="5.98" text-anchor="end" fill="#333" textLength="2.8" lengthAdjust="spacingAndGlyphs">0</text>
<text transform="translate(220,581.8)" font-size="7.82" text-anchor="middle" fill="#222" stroke="#222" stroke-width="0.22" textLength="12.5" lengthAdjust="spacingAndGlyphs">0.01</text>
<text transform="translate(266.2,581.8)" font-size="7.82" text-anchor="middle" fill="#222" stroke="#222" stroke-width="0.22" textLength="9" lengthAdjust="spacingAndGlyphs">0.1</text>
<text transform="translate(295.4,581.8)" font-size="7.82" text-anchor="middle" fill="#222" stroke="#222" stroke-width="0.22" textLength="3.2" lengthAdjust="spacingAndGlyphs">1</text>
<text transform="translate(330.8,581.8)" font-size="7.82" text-anchor="middle" fill="#222" stroke="#222" stroke-width="0.22" textLength="7" lengthAdjust="spacingAndGlyphs">10</text>
<text transform="translate(260,569.8)" font-size="6.21" text-anchor="middle" fill="#222" stroke="#222" stroke-width="0.05" textLength="57.7" lengthAdjust="spacingAndGlyphs">y = 11.317ln(x) + 79.933</text>
<text transform="translate(275.3,594)" font-size="10.81" text-anchor="middle" fill="#222" stroke="#222" stroke-width="0.22" textLength="100" lengthAdjust="spacingAndGlyphs">CD8 effector to target cell ratio</text>
<rect x="336.7" y="482.8" width="2.6" height="7.7" fill="#000"/>
<circle cx="353.6" cy="494.3" r="0.9" fill="#1d5a98"/>
<text transform="translate(356.5,497)" font-size="7.59" text-anchor="start" fill="#3b70aa" stroke="#3b70aa" stroke-width="0.1" textLength="55.2" lengthAdjust="spacingAndGlyphs">Control CAR T cells</text>
<circle cx="353.6" cy="502.9" r="0.9" fill="#c8102e"/>
<text transform="translate(356.5,505.6)" font-size="7.59" text-anchor="start" fill="#d0405a" stroke="#d0405a" stroke-width="0.1" textLength="45.6" lengthAdjust="spacingAndGlyphs">Duv-CAR T cells</text>
<text transform="translate(351.2,538.9) rotate(-90)" font-size="9.66" text-anchor="middle" fill="#222" stroke="#222" stroke-width="0.22" textLength="62" lengthAdjust="spacingAndGlyphs">% specific OSU-CLL</text>
<text transform="translate(361.3,538.7) rotate(-90)" font-size="9.66" text-anchor="middle" fill="#222" stroke="#222" stroke-width="0.22" textLength="32.3" lengthAdjust="spacingAndGlyphs">cell death</text>
<line x1="421.2" y1="510" x2="421.2" y2="574.5" stroke="#111" stroke-width="1.3" />
<line x1="365" y1="573.8" x2="477.5" y2="573.8" stroke="#111" stroke-width="1.3" />
<text transform="translate(419.5,575.75)" font-size="5.98" text-anchor="end" fill="#333" textLength="2.8" lengthAdjust="spacingAndGlyphs">0</text>
<text transform="translate(419.5,563.25)" font-size="5.98" text-anchor="end" fill="#333" textLength="5.6" lengthAdjust="spacingAndGlyphs">20</text>
<text transform="translate(419.5,550.75)" font-size="5.98" text-anchor="end" fill="#333" textLength="5.6" lengthAdjust="spacingAndGlyphs">40</text>
<text transform="translate(419.5,538.25)" font-size="5.98" text-anchor="end" fill="#333" textLength="5.6" lengthAdjust="spacingAndGlyphs">60</text>
<text transform="translate(419.5,525.75)" font-size="5.98" text-anchor="end" fill="#333" textLength="5.6" lengthAdjust="spacingAndGlyphs">80</text>
<text transform="translate(419.5,513.25)" font-size="5.98" text-anchor="end" fill="#333" textLength="8" lengthAdjust="spacingAndGlyphs">100</text>
<text transform="translate(368.75,581.6)" font-size="7.82" text-anchor="middle" fill="#222" stroke="#222" stroke-width="0.22" textLength="9" lengthAdjust="spacingAndGlyphs">0.1</text>
<text transform="translate(421.25,581.6)" font-size="7.82" text-anchor="middle" fill="#222" stroke="#222" stroke-width="0.22" textLength="3.2" lengthAdjust="spacingAndGlyphs">1</text>
<text transform="translate(478.75,581.6)" font-size="7.82" text-anchor="middle" fill="#222" stroke="#222" stroke-width="0.22" textLength="7" lengthAdjust="spacingAndGlyphs">10</text>
<text transform="translate(421.25,594.4)" font-size="10.81" text-anchor="middle" fill="#222" stroke="#222" stroke-width="0.22" textLength="100" lengthAdjust="spacingAndGlyphs">CD8 effector to target cell ratio</text>
<rect x="392.8" y="557.2" width="2" height="2" fill="#1d5a98" stroke="none" stroke-width="0"/>
<rect x="447.8" y="544.5" width="2" height="2" fill="#1d5a98" stroke="none" stroke-width="0"/>
<rect x="392.8" y="555.3" width="2" height="2" fill="#c8102e" stroke="none" stroke-width="0"/>
<rect x="447.8" y="536.5" width="2" height="2" fill="#c8102e" stroke="none" stroke-width="0"/>
<line x1="393.75" y1="557.5" x2="448.75" y2="543" stroke="#d32a45" stroke-width="1.5" stroke-dasharray="4,2"/>
<text transform="translate(452.4,563.2)" font-size="6.21" text-anchor="middle" fill="#222" stroke="#222" stroke-width="0.05" textLength="57.25" lengthAdjust="spacingAndGlyphs">y = 9.4289ln(x) + 37.711</text>
<rect x="0.5" y="0.5" width="519" height="617" fill="none" stroke="#000" stroke-width="1.2"/>
</svg></body></html>
